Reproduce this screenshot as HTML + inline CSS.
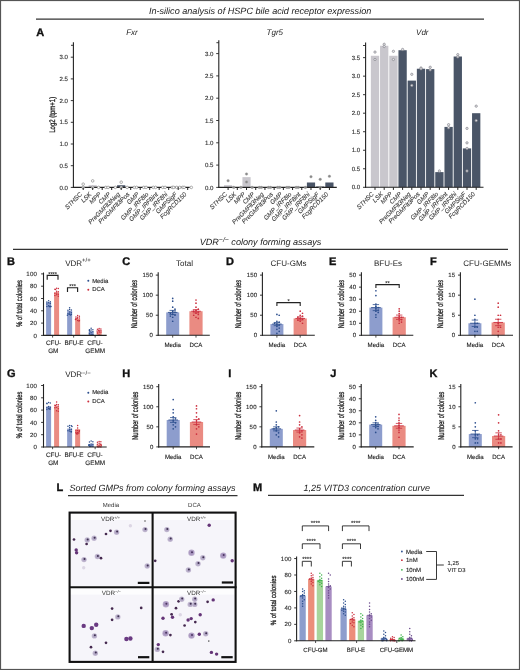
<!DOCTYPE html>
<html><head><meta charset="utf-8"><style>
html,body{margin:0;padding:0;background:#fff;width:520px;height:670px;overflow:hidden;}
svg{display:block;filter:blur(0.3px);font-family:"Liberation Sans",sans-serif;text-rendering:geometricPrecision;}
text.s{stroke:#333;stroke-width:0.13px;}
text.r{stroke:#222;stroke-width:0.3px;}
text.c{stroke:#444;stroke-width:0.1px;}
text.L{stroke:#111;stroke-width:0.35px;}
</style></head><body>
<svg width="520" height="670" viewBox="0 0 520 670">
<rect x="0" y="0" width="520" height="670" fill="#fff"/>
<text x="260.1" y="13.7" font-size="9.1" text-anchor="middle" font-style="italic" fill="#222">In-silico analysis of HSPC bile acid receptor expression</text>
<line x1="36" y1="19.2" x2="484" y2="19.2" stroke="#333" stroke-width="1.2"/>
<text x="36.2" y="35.6" font-size="11" font-weight="bold" fill="#111" class="L">A</text>
<text x="132" y="34.8" font-size="8" text-anchor="middle" font-style="italic" fill="#222">Fxr</text>
<rect x="88.6" y="185.23" width="8.2" height="2.17" fill="#c9c7cd"/>
<rect x="117.1" y="185.23" width="8.2" height="2.17" fill="#4a5567"/>
<line x1="73.4" y1="42.2" x2="73.4" y2="187.9" stroke="#222" stroke-width="1.1"/>
<line x1="72.9" y1="187.4" x2="189.7" y2="187.4" stroke="#222" stroke-width="1.1"/>
<line x1="70.8" y1="187.4" x2="73.4" y2="187.4" stroke="#222" stroke-width="0.9"/>
<text x="68" y="189.5" font-size="6.1" text-anchor="end" fill="#333" class="s">0.0</text>
<line x1="70.8" y1="165.7" x2="73.4" y2="165.7" stroke="#222" stroke-width="0.9"/>
<text x="68" y="167.8" font-size="6.1" text-anchor="end" fill="#333" class="s">0.5</text>
<line x1="70.8" y1="144" x2="73.4" y2="144" stroke="#222" stroke-width="0.9"/>
<text x="68" y="146.1" font-size="6.1" text-anchor="end" fill="#333" class="s">1.0</text>
<line x1="70.8" y1="122.3" x2="73.4" y2="122.3" stroke="#222" stroke-width="0.9"/>
<text x="68" y="124.4" font-size="6.1" text-anchor="end" fill="#333" class="s">1.5</text>
<line x1="70.8" y1="100.6" x2="73.4" y2="100.6" stroke="#222" stroke-width="0.9"/>
<text x="68" y="102.7" font-size="6.1" text-anchor="end" fill="#333" class="s">2.0</text>
<line x1="70.8" y1="78.9" x2="73.4" y2="78.9" stroke="#222" stroke-width="0.9"/>
<text x="68" y="81" font-size="6.1" text-anchor="end" fill="#333" class="s">2.5</text>
<line x1="70.8" y1="57.2" x2="73.4" y2="57.2" stroke="#222" stroke-width="0.9"/>
<text x="68" y="59.3" font-size="6.1" text-anchor="end" fill="#333" class="s">3.0</text>
<circle cx="83.2" cy="184.15" r="1.3" fill="#fff" stroke="#777" stroke-width="0.6"/>
<circle cx="83.2" cy="187.4" r="1.3" fill="#fff" stroke="#777" stroke-width="0.6"/>
<circle cx="92.7" cy="180.89" r="1.3" fill="#fff" stroke="#777" stroke-width="0.6"/>
<circle cx="92.7" cy="187.4" r="1.3" fill="#fff" stroke="#777" stroke-width="0.6"/>
<circle cx="98.6" cy="187.4" r="1.3" fill="#fff" stroke="#777" stroke-width="0.6"/>
<circle cx="105.8" cy="187.4" r="1.3" fill="#fff" stroke="#777" stroke-width="0.6"/>
<circle cx="108.1" cy="187.4" r="1.3" fill="#fff" stroke="#777" stroke-width="0.6"/>
<circle cx="115.3" cy="187.4" r="1.3" fill="#fff" stroke="#777" stroke-width="0.6"/>
<circle cx="121.2" cy="182.19" r="1.3" fill="#fff" stroke="#777" stroke-width="0.6"/>
<circle cx="121.2" cy="187.4" r="1.3" fill="#fff" stroke="#777" stroke-width="0.6"/>
<circle cx="127.1" cy="187.4" r="1.3" fill="#fff" stroke="#777" stroke-width="0.6"/>
<circle cx="134.3" cy="187.4" r="1.3" fill="#fff" stroke="#777" stroke-width="0.6"/>
<circle cx="136.6" cy="187.4" r="1.3" fill="#fff" stroke="#777" stroke-width="0.6"/>
<circle cx="143.8" cy="187.4" r="1.3" fill="#fff" stroke="#777" stroke-width="0.6"/>
<circle cx="146.1" cy="187.4" r="1.3" fill="#fff" stroke="#777" stroke-width="0.6"/>
<circle cx="153.3" cy="187.4" r="1.3" fill="#fff" stroke="#777" stroke-width="0.6"/>
<circle cx="155.6" cy="187.4" r="1.3" fill="#fff" stroke="#777" stroke-width="0.6"/>
<circle cx="162.8" cy="187.4" r="1.3" fill="#fff" stroke="#777" stroke-width="0.6"/>
<circle cx="165.1" cy="187.4" r="1.3" fill="#fff" stroke="#777" stroke-width="0.6"/>
<circle cx="172.3" cy="187.4" r="1.3" fill="#fff" stroke="#777" stroke-width="0.6"/>
<circle cx="173.7" cy="187.4" r="1.3" fill="#fff" stroke="#777" stroke-width="0.6"/>
<circle cx="176.7" cy="187.4" r="1.3" fill="#fff" stroke="#777" stroke-width="0.6"/>
<circle cx="179.7" cy="187.4" r="1.3" fill="#fff" stroke="#777" stroke-width="0.6"/>
<circle cx="182.7" cy="187.4" r="1.3" fill="#fff" stroke="#777" stroke-width="0.6"/>
<circle cx="184.1" cy="187.4" r="1.3" fill="#fff" stroke="#777" stroke-width="0.6"/>
<circle cx="191.3" cy="187.4" r="1.3" fill="#fff" stroke="#777" stroke-width="0.6"/>
<line x1="83.2" y1="187.4" x2="83.2" y2="190" stroke="#222" stroke-width="1"/>
<text x="0" y="0" font-size="6.3" text-anchor="end" font-style="italic" fill="#333" transform="translate(82.5,194.7) rotate(-45)" class="c">STHSC</text>
<line x1="92.7" y1="187.4" x2="92.7" y2="190" stroke="#222" stroke-width="1"/>
<text x="0" y="0" font-size="6.3" text-anchor="end" font-style="italic" fill="#333" transform="translate(92,194.7) rotate(-45)" class="c">LSK</text>
<line x1="102.2" y1="187.4" x2="102.2" y2="190" stroke="#222" stroke-width="1"/>
<text x="0" y="0" font-size="6.3" text-anchor="end" font-style="italic" fill="#333" transform="translate(101.5,194.7) rotate(-45)" class="c">MPP</text>
<line x1="111.7" y1="187.4" x2="111.7" y2="190" stroke="#222" stroke-width="1"/>
<text x="0" y="0" font-size="6.3" text-anchor="end" font-style="italic" fill="#333" transform="translate(111,194.7) rotate(-45)" class="c">CMP</text>
<line x1="121.2" y1="187.4" x2="121.2" y2="190" stroke="#222" stroke-width="1"/>
<text x="0" y="0" font-size="6.3" text-anchor="end" font-style="italic" fill="#333" transform="translate(120.5,194.7) rotate(-45)" class="c">PreGMFlt3Neg</text>
<line x1="130.7" y1="187.4" x2="130.7" y2="190" stroke="#222" stroke-width="1"/>
<text x="0" y="0" font-size="6.3" text-anchor="end" font-style="italic" fill="#333" transform="translate(130,194.7) rotate(-45)" class="c">PreGMFlt3Pos</text>
<line x1="140.2" y1="187.4" x2="140.2" y2="190" stroke="#222" stroke-width="1"/>
<text x="0" y="0" font-size="6.3" text-anchor="end" font-style="italic" fill="#333" transform="translate(139.5,194.7) rotate(-45)" class="c">GMP</text>
<line x1="149.7" y1="187.4" x2="149.7" y2="190" stroke="#222" stroke-width="1"/>
<text x="0" y="0" font-size="6.3" text-anchor="end" font-style="italic" fill="#333" transform="translate(149,194.7) rotate(-45)" class="c">GMP_IRF8lo</text>
<line x1="159.2" y1="187.4" x2="159.2" y2="190" stroke="#222" stroke-width="1"/>
<text x="0" y="0" font-size="6.3" text-anchor="end" font-style="italic" fill="#333" transform="translate(158.5,194.7) rotate(-45)" class="c">GMP_IRF8int</text>
<line x1="168.7" y1="187.4" x2="168.7" y2="190" stroke="#222" stroke-width="1"/>
<text x="0" y="0" font-size="6.3" text-anchor="end" font-style="italic" fill="#333" transform="translate(168,194.7) rotate(-45)" class="c">GMP_IRF8hi</text>
<line x1="178.2" y1="187.4" x2="178.2" y2="190" stroke="#222" stroke-width="1"/>
<text x="0" y="0" font-size="6.3" text-anchor="end" font-style="italic" fill="#333" transform="translate(177.5,194.7) rotate(-45)" class="c">GMPSigF</text>
<line x1="187.7" y1="187.4" x2="187.7" y2="190" stroke="#222" stroke-width="1"/>
<text x="0" y="0" font-size="6.3" text-anchor="end" font-style="italic" fill="#333" transform="translate(187,194.7) rotate(-45)" class="c">FcgRCD150</text>
<line x1="71" y1="45.3" x2="73.4" y2="45.3" stroke="#222" stroke-width="0.9"/>
<text x="0" y="0" font-size="8" text-anchor="middle" fill="#222" transform="translate(54.9,114.8) rotate(-90) scale(0.75,1)" class="r">Log2 (tpm+1)</text>
<text x="274.8" y="34.8" font-size="8" text-anchor="middle" font-style="italic" fill="#222">Tgr5</text>
<rect x="224" y="185.17" width="8.2" height="2.23" fill="#c9c7cd"/>
<rect x="242.42" y="177.14" width="8.2" height="10.26" fill="#c9c7cd"/>
<rect x="306.89" y="182.49" width="8.2" height="4.91" fill="#4a5567"/>
<rect x="316.1" y="186.51" width="8.2" height="0.89" fill="#4a5567"/>
<rect x="325.31" y="182.49" width="8.2" height="4.91" fill="#4a5567"/>
<line x1="218.8" y1="40.3" x2="218.8" y2="187.9" stroke="#222" stroke-width="1.1"/>
<line x1="218.3" y1="187.4" x2="336.8" y2="187.4" stroke="#222" stroke-width="1.1"/>
<line x1="216.2" y1="187.4" x2="218.8" y2="187.4" stroke="#222" stroke-width="0.9"/>
<text x="213.4" y="189.5" font-size="6.1" text-anchor="end" fill="#333" class="s">0.0</text>
<line x1="216.2" y1="165.1" x2="218.8" y2="165.1" stroke="#222" stroke-width="0.9"/>
<text x="213.4" y="167.2" font-size="6.1" text-anchor="end" fill="#333" class="s">0.5</text>
<line x1="216.2" y1="142.8" x2="218.8" y2="142.8" stroke="#222" stroke-width="0.9"/>
<text x="213.4" y="144.9" font-size="6.1" text-anchor="end" fill="#333" class="s">1.0</text>
<line x1="216.2" y1="120.5" x2="218.8" y2="120.5" stroke="#222" stroke-width="0.9"/>
<text x="213.4" y="122.6" font-size="6.1" text-anchor="end" fill="#333" class="s">1.5</text>
<line x1="216.2" y1="98.2" x2="218.8" y2="98.2" stroke="#222" stroke-width="0.9"/>
<text x="213.4" y="100.3" font-size="6.1" text-anchor="end" fill="#333" class="s">2.0</text>
<line x1="216.2" y1="75.9" x2="218.8" y2="75.9" stroke="#222" stroke-width="0.9"/>
<text x="213.4" y="78" font-size="6.1" text-anchor="end" fill="#333" class="s">2.5</text>
<line x1="216.2" y1="53.6" x2="218.8" y2="53.6" stroke="#222" stroke-width="0.9"/>
<text x="213.4" y="55.7" font-size="6.1" text-anchor="end" fill="#333" class="s">3.0</text>
<circle cx="228.1" cy="180.71" r="1.3" fill="#888" stroke="#aaa" stroke-width="0.4"/>
<circle cx="233.71" cy="187.4" r="1.3" fill="#888" stroke="#aaa" stroke-width="0.4"/>
<circle cx="240.91" cy="187.4" r="1.3" fill="#888" stroke="#aaa" stroke-width="0.4"/>
<circle cx="246.52" cy="174.02" r="1.3" fill="#888" stroke="#aaa" stroke-width="0.4"/>
<circle cx="246.52" cy="182.05" r="1.3" fill="#888" stroke="#aaa" stroke-width="0.4"/>
<circle cx="252.13" cy="187.4" r="1.3" fill="#888" stroke="#aaa" stroke-width="0.4"/>
<circle cx="259.33" cy="187.4" r="1.3" fill="#888" stroke="#aaa" stroke-width="0.4"/>
<circle cx="261.34" cy="187.4" r="1.3" fill="#888" stroke="#aaa" stroke-width="0.4"/>
<circle cx="268.54" cy="187.4" r="1.3" fill="#888" stroke="#aaa" stroke-width="0.4"/>
<circle cx="270.55" cy="187.4" r="1.3" fill="#888" stroke="#aaa" stroke-width="0.4"/>
<circle cx="277.75" cy="187.4" r="1.3" fill="#888" stroke="#aaa" stroke-width="0.4"/>
<circle cx="279.76" cy="187.4" r="1.3" fill="#888" stroke="#aaa" stroke-width="0.4"/>
<circle cx="286.96" cy="187.4" r="1.3" fill="#888" stroke="#aaa" stroke-width="0.4"/>
<circle cx="288.97" cy="187.4" r="1.3" fill="#888" stroke="#aaa" stroke-width="0.4"/>
<circle cx="296.17" cy="187.4" r="1.3" fill="#888" stroke="#aaa" stroke-width="0.4"/>
<circle cx="298.18" cy="187.4" r="1.3" fill="#888" stroke="#aaa" stroke-width="0.4"/>
<circle cx="305.38" cy="187.4" r="1.3" fill="#888" stroke="#aaa" stroke-width="0.4"/>
<circle cx="310.99" cy="176.7" r="1.3" fill="#888" stroke="#aaa" stroke-width="0.4"/>
<circle cx="320.2" cy="179.37" r="1.3" fill="#888" stroke="#aaa" stroke-width="0.4"/>
<circle cx="320.2" cy="187.4" r="1.3" fill="#888" stroke="#aaa" stroke-width="0.4"/>
<circle cx="329.41" cy="176.25" r="1.3" fill="#888" stroke="#aaa" stroke-width="0.4"/>
<line x1="228.1" y1="187.4" x2="228.1" y2="190" stroke="#222" stroke-width="1"/>
<text x="0" y="0" font-size="6.3" text-anchor="end" font-style="italic" fill="#333" transform="translate(227.4,194.7) rotate(-45)" class="c">STHSC</text>
<line x1="237.31" y1="187.4" x2="237.31" y2="190" stroke="#222" stroke-width="1"/>
<text x="0" y="0" font-size="6.3" text-anchor="end" font-style="italic" fill="#333" transform="translate(236.61,194.7) rotate(-45)" class="c">LSK</text>
<line x1="246.52" y1="187.4" x2="246.52" y2="190" stroke="#222" stroke-width="1"/>
<text x="0" y="0" font-size="6.3" text-anchor="end" font-style="italic" fill="#333" transform="translate(245.82,194.7) rotate(-45)" class="c">MPP</text>
<line x1="255.73" y1="187.4" x2="255.73" y2="190" stroke="#222" stroke-width="1"/>
<text x="0" y="0" font-size="6.3" text-anchor="end" font-style="italic" fill="#333" transform="translate(255.03,194.7) rotate(-45)" class="c">CMP</text>
<line x1="264.94" y1="187.4" x2="264.94" y2="190" stroke="#222" stroke-width="1"/>
<text x="0" y="0" font-size="6.3" text-anchor="end" font-style="italic" fill="#333" transform="translate(264.24,194.7) rotate(-45)" class="c">PreGMFlt3Neg</text>
<line x1="274.15" y1="187.4" x2="274.15" y2="190" stroke="#222" stroke-width="1"/>
<text x="0" y="0" font-size="6.3" text-anchor="end" font-style="italic" fill="#333" transform="translate(273.45,194.7) rotate(-45)" class="c">PreGMFlt3Pos</text>
<line x1="283.36" y1="187.4" x2="283.36" y2="190" stroke="#222" stroke-width="1"/>
<text x="0" y="0" font-size="6.3" text-anchor="end" font-style="italic" fill="#333" transform="translate(282.66,194.7) rotate(-45)" class="c">GMP</text>
<line x1="292.57" y1="187.4" x2="292.57" y2="190" stroke="#222" stroke-width="1"/>
<text x="0" y="0" font-size="6.3" text-anchor="end" font-style="italic" fill="#333" transform="translate(291.87,194.7) rotate(-45)" class="c">GMP_IRF8lo</text>
<line x1="301.78" y1="187.4" x2="301.78" y2="190" stroke="#222" stroke-width="1"/>
<text x="0" y="0" font-size="6.3" text-anchor="end" font-style="italic" fill="#333" transform="translate(301.08,194.7) rotate(-45)" class="c">GMP_IRF8int</text>
<line x1="310.99" y1="187.4" x2="310.99" y2="190" stroke="#222" stroke-width="1"/>
<text x="0" y="0" font-size="6.3" text-anchor="end" font-style="italic" fill="#333" transform="translate(310.29,194.7) rotate(-45)" class="c">GMP_IRF8hi</text>
<line x1="320.2" y1="187.4" x2="320.2" y2="190" stroke="#222" stroke-width="1"/>
<text x="0" y="0" font-size="6.3" text-anchor="end" font-style="italic" fill="#333" transform="translate(319.5,194.7) rotate(-45)" class="c">GMPSigF</text>
<line x1="329.41" y1="187.4" x2="329.41" y2="190" stroke="#222" stroke-width="1"/>
<text x="0" y="0" font-size="6.3" text-anchor="end" font-style="italic" fill="#333" transform="translate(328.71,194.7) rotate(-45)" class="c">FcgRCD150</text>
<line x1="216.4" y1="42.7" x2="218.8" y2="42.7" stroke="#222" stroke-width="0.9"/>
<text x="422.3" y="34.8" font-size="8" text-anchor="middle" font-style="italic" fill="#222">Vdr</text>
<rect x="370.85" y="55.77" width="8.3" height="131.53" fill="#c9c7cd"/>
<rect x="380.05" y="45.77" width="8.3" height="141.53" fill="#c9c7cd"/>
<rect x="389.25" y="55.77" width="8.3" height="131.53" fill="#c9c7cd"/>
<rect x="398.45" y="50.22" width="8.3" height="137.09" fill="#4a5567"/>
<rect x="407.65" y="80.6" width="8.3" height="106.7" fill="#4a5567"/>
<rect x="416.85" y="68.74" width="8.3" height="118.56" fill="#4a5567"/>
<rect x="426.05" y="69.11" width="8.3" height="118.19" fill="#4a5567"/>
<rect x="435.25" y="172.11" width="8.3" height="15.19" fill="#4a5567"/>
<rect x="444.45" y="126.91" width="8.3" height="60.39" fill="#4a5567"/>
<rect x="453.65" y="56.51" width="8.3" height="130.79" fill="#4a5567"/>
<rect x="462.85" y="148.4" width="8.3" height="38.9" fill="#4a5567"/>
<rect x="472.05" y="113.2" width="8.3" height="74.1" fill="#4a5567"/>
<line x1="365.6" y1="42.6" x2="365.6" y2="187.8" stroke="#222" stroke-width="1.1"/>
<line x1="365.1" y1="187.3" x2="483.5" y2="187.3" stroke="#222" stroke-width="1.1"/>
<line x1="363" y1="187.3" x2="365.6" y2="187.3" stroke="#222" stroke-width="0.9"/>
<text x="360.2" y="189.4" font-size="6.1" text-anchor="end" fill="#333" class="s">0.0</text>
<line x1="363" y1="168.78" x2="365.6" y2="168.78" stroke="#222" stroke-width="0.9"/>
<text x="360.2" y="170.88" font-size="6.1" text-anchor="end" fill="#333" class="s">0.5</text>
<line x1="363" y1="150.25" x2="365.6" y2="150.25" stroke="#222" stroke-width="0.9"/>
<text x="360.2" y="152.35" font-size="6.1" text-anchor="end" fill="#333" class="s">1.0</text>
<line x1="363" y1="131.73" x2="365.6" y2="131.73" stroke="#222" stroke-width="0.9"/>
<text x="360.2" y="133.83" font-size="6.1" text-anchor="end" fill="#333" class="s">1.5</text>
<line x1="363" y1="113.2" x2="365.6" y2="113.2" stroke="#222" stroke-width="0.9"/>
<text x="360.2" y="115.3" font-size="6.1" text-anchor="end" fill="#333" class="s">2.0</text>
<line x1="363" y1="94.68" x2="365.6" y2="94.68" stroke="#222" stroke-width="0.9"/>
<text x="360.2" y="96.78" font-size="6.1" text-anchor="end" fill="#333" class="s">2.5</text>
<line x1="363" y1="76.15" x2="365.6" y2="76.15" stroke="#222" stroke-width="0.9"/>
<text x="360.2" y="78.25" font-size="6.1" text-anchor="end" fill="#333" class="s">3.0</text>
<line x1="363" y1="57.63" x2="365.6" y2="57.63" stroke="#222" stroke-width="0.9"/>
<text x="360.2" y="59.73" font-size="6.1" text-anchor="end" fill="#333" class="s">3.5</text>
<circle cx="375" cy="52.07" r="1.15" fill="#e4e4e8" stroke="#8a8a90" stroke-width="0.75"/>
<circle cx="375" cy="59.48" r="1.15" fill="#e4e4e8" stroke="#8a8a90" stroke-width="0.75"/>
<circle cx="384.2" cy="44.29" r="1.15" fill="#e4e4e8" stroke="#8a8a90" stroke-width="0.75"/>
<circle cx="384.2" cy="46.51" r="1.15" fill="#e4e4e8" stroke="#8a8a90" stroke-width="0.75"/>
<circle cx="393.4" cy="51.33" r="1.15" fill="#e4e4e8" stroke="#8a8a90" stroke-width="0.75"/>
<circle cx="393.4" cy="59.48" r="1.15" fill="#e4e4e8" stroke="#8a8a90" stroke-width="0.75"/>
<circle cx="402.6" cy="49.47" r="1.15" fill="#e4e4e8" stroke="#8a8a90" stroke-width="0.75"/>
<circle cx="411.8" cy="74.3" r="1.15" fill="#e4e4e8" stroke="#8a8a90" stroke-width="0.75"/>
<circle cx="411.8" cy="85.41" r="1.15" fill="#e4e4e8" stroke="#8a8a90" stroke-width="0.75"/>
<circle cx="421" cy="68" r="1.15" fill="#e4e4e8" stroke="#8a8a90" stroke-width="0.75"/>
<circle cx="421" cy="68.74" r="1.15" fill="#e4e4e8" stroke="#8a8a90" stroke-width="0.75"/>
<circle cx="430.2" cy="67.26" r="1.15" fill="#e4e4e8" stroke="#8a8a90" stroke-width="0.75"/>
<circle cx="430.2" cy="69.85" r="1.15" fill="#e4e4e8" stroke="#8a8a90" stroke-width="0.75"/>
<circle cx="439.4" cy="171" r="1.15" fill="#e4e4e8" stroke="#8a8a90" stroke-width="0.75"/>
<circle cx="448.6" cy="124.69" r="1.15" fill="#e4e4e8" stroke="#8a8a90" stroke-width="0.75"/>
<circle cx="448.6" cy="127.65" r="1.15" fill="#e4e4e8" stroke="#8a8a90" stroke-width="0.75"/>
<circle cx="457.8" cy="54.66" r="1.15" fill="#e4e4e8" stroke="#8a8a90" stroke-width="0.75"/>
<circle cx="457.8" cy="56.88" r="1.15" fill="#e4e4e8" stroke="#8a8a90" stroke-width="0.75"/>
<circle cx="467" cy="128.39" r="1.15" fill="#e4e4e8" stroke="#8a8a90" stroke-width="0.75"/>
<circle cx="467" cy="142.84" r="1.15" fill="#e4e4e8" stroke="#8a8a90" stroke-width="0.75"/>
<circle cx="467" cy="148.4" r="1.15" fill="#e4e4e8" stroke="#8a8a90" stroke-width="0.75"/>
<circle cx="467" cy="171" r="1.15" fill="#e4e4e8" stroke="#8a8a90" stroke-width="0.75"/>
<circle cx="476.2" cy="106.16" r="1.15" fill="#e4e4e8" stroke="#8a8a90" stroke-width="0.75"/>
<circle cx="476.2" cy="120.61" r="1.15" fill="#e4e4e8" stroke="#8a8a90" stroke-width="0.75"/>
<line x1="375" y1="187.3" x2="375" y2="189.9" stroke="#222" stroke-width="1"/>
<text x="0" y="0" font-size="6.3" text-anchor="end" font-style="italic" fill="#333" transform="translate(374.3,194.6) rotate(-45)" class="c">STHSC</text>
<line x1="384.2" y1="187.3" x2="384.2" y2="189.9" stroke="#222" stroke-width="1"/>
<text x="0" y="0" font-size="6.3" text-anchor="end" font-style="italic" fill="#333" transform="translate(383.5,194.6) rotate(-45)" class="c">LSK</text>
<line x1="393.4" y1="187.3" x2="393.4" y2="189.9" stroke="#222" stroke-width="1"/>
<text x="0" y="0" font-size="6.3" text-anchor="end" font-style="italic" fill="#333" transform="translate(392.7,194.6) rotate(-45)" class="c">MPP</text>
<line x1="402.6" y1="187.3" x2="402.6" y2="189.9" stroke="#222" stroke-width="1"/>
<text x="0" y="0" font-size="6.3" text-anchor="end" font-style="italic" fill="#333" transform="translate(401.9,194.6) rotate(-45)" class="c">CMP</text>
<line x1="411.8" y1="187.3" x2="411.8" y2="189.9" stroke="#222" stroke-width="1"/>
<text x="0" y="0" font-size="6.3" text-anchor="end" font-style="italic" fill="#333" transform="translate(411.1,194.6) rotate(-45)" class="c">PreGMFlt3Neg</text>
<line x1="421" y1="187.3" x2="421" y2="189.9" stroke="#222" stroke-width="1"/>
<text x="0" y="0" font-size="6.3" text-anchor="end" font-style="italic" fill="#333" transform="translate(420.3,194.6) rotate(-45)" class="c">PreGMFlt3Pos</text>
<line x1="430.2" y1="187.3" x2="430.2" y2="189.9" stroke="#222" stroke-width="1"/>
<text x="0" y="0" font-size="6.3" text-anchor="end" font-style="italic" fill="#333" transform="translate(429.5,194.6) rotate(-45)" class="c">GMP</text>
<line x1="439.4" y1="187.3" x2="439.4" y2="189.9" stroke="#222" stroke-width="1"/>
<text x="0" y="0" font-size="6.3" text-anchor="end" font-style="italic" fill="#333" transform="translate(438.7,194.6) rotate(-45)" class="c">GMP_IRF8lo</text>
<line x1="448.6" y1="187.3" x2="448.6" y2="189.9" stroke="#222" stroke-width="1"/>
<text x="0" y="0" font-size="6.3" text-anchor="end" font-style="italic" fill="#333" transform="translate(447.9,194.6) rotate(-45)" class="c">GMP_IRF8int</text>
<line x1="457.8" y1="187.3" x2="457.8" y2="189.9" stroke="#222" stroke-width="1"/>
<text x="0" y="0" font-size="6.3" text-anchor="end" font-style="italic" fill="#333" transform="translate(457.1,194.6) rotate(-45)" class="c">GMP_IRF8hi</text>
<line x1="467" y1="187.3" x2="467" y2="189.9" stroke="#222" stroke-width="1"/>
<text x="0" y="0" font-size="6.3" text-anchor="end" font-style="italic" fill="#333" transform="translate(466.3,194.6) rotate(-45)" class="c">GMPSigF</text>
<line x1="476.2" y1="187.3" x2="476.2" y2="189.9" stroke="#222" stroke-width="1"/>
<text x="0" y="0" font-size="6.3" text-anchor="end" font-style="italic" fill="#333" transform="translate(475.5,194.6) rotate(-45)" class="c">FcgRCD150</text>
<line x1="363" y1="45.5" x2="365.6" y2="45.5" stroke="#222" stroke-width="0.9"/>
<text x="260.5" y="244.9" font-size="9.1" text-anchor="middle" font-style="italic" fill="#222">VDR<tspan font-size="6.9" dy="-3.3">−/−</tspan><tspan dy="3.3"> colony forming assays</tspan></text>
<line x1="13" y1="249.4" x2="508" y2="249.4" stroke="#333" stroke-width="1.25"/>
<text x="7" y="265.4" font-size="11" font-weight="bold" fill="#111" class="L">B</text>
<text x="65.2" y="265.6" font-size="8" fill="#222">VDR<tspan font-size="6" dy="-3.4">+/+</tspan></text>
<line x1="43.5" y1="272.5" x2="43.5" y2="335.9" stroke="#222" stroke-width="1.1"/>
<line x1="41.1" y1="335.4" x2="43.5" y2="335.4" stroke="#222" stroke-width="0.9"/>
<text x="37.2" y="337.5" font-size="6.1" text-anchor="end" fill="#2a2a2a" letter-spacing="0.25" class="s">0</text>
<line x1="41.1" y1="323.1" x2="43.5" y2="323.1" stroke="#222" stroke-width="0.9"/>
<text x="37.2" y="325.2" font-size="6.1" text-anchor="end" fill="#2a2a2a" letter-spacing="0.25" class="s">20</text>
<line x1="41.1" y1="310.8" x2="43.5" y2="310.8" stroke="#222" stroke-width="0.9"/>
<text x="37.2" y="312.9" font-size="6.1" text-anchor="end" fill="#2a2a2a" letter-spacing="0.25" class="s">40</text>
<line x1="41.1" y1="298.5" x2="43.5" y2="298.5" stroke="#222" stroke-width="0.9"/>
<text x="37.2" y="300.6" font-size="6.1" text-anchor="end" fill="#2a2a2a" letter-spacing="0.25" class="s">60</text>
<line x1="41.1" y1="286.2" x2="43.5" y2="286.2" stroke="#222" stroke-width="0.9"/>
<text x="37.2" y="288.3" font-size="6.1" text-anchor="end" fill="#2a2a2a" letter-spacing="0.25" class="s">80</text>
<line x1="41.1" y1="273.9" x2="43.5" y2="273.9" stroke="#222" stroke-width="0.9"/>
<text x="37.2" y="276" font-size="6.1" text-anchor="end" fill="#2a2a2a" letter-spacing="0.25" class="s">100</text>
<text x="0" y="0" font-size="8.2" text-anchor="middle" fill="#222" transform="translate(22,303.4) rotate(-90) scale(0.7,1)" class="r">% of total colonies</text>
<rect x="46.1" y="302.19" width="5" height="33.21" fill="#8d9dcd"/>
<rect x="54.1" y="292.35" width="5" height="43.05" fill="#ea8b82"/>
<circle cx="48.6" cy="300.7" r="0.75" fill="#2d4f8e"/>
<circle cx="50.3" cy="301.84" r="0.75" fill="#2d4f8e"/>
<circle cx="46.9" cy="302.12" r="0.75" fill="#2d4f8e"/>
<circle cx="48.6" cy="302.84" r="0.75" fill="#2d4f8e"/>
<circle cx="50.3" cy="303.51" r="0.75" fill="#2d4f8e"/>
<circle cx="46.9" cy="303.92" r="0.75" fill="#2d4f8e"/>
<circle cx="48.6" cy="305.63" r="0.75" fill="#2d4f8e"/>
<circle cx="50.3" cy="306.22" r="0.75" fill="#2d4f8e"/>
<circle cx="46.9" cy="306.4" r="0.75" fill="#2d4f8e"/>
<circle cx="49.31" cy="306.42" r="0.75" fill="#2d4f8e"/>
<circle cx="50.97" cy="306.54" r="0.75" fill="#2d4f8e"/>
<circle cx="50.15" cy="306.74" r="0.75" fill="#2d4f8e"/>
<circle cx="56.6" cy="288.25" r="0.75" fill="#cc2f3e"/>
<circle cx="58.3" cy="288.5" r="0.75" fill="#cc2f3e"/>
<circle cx="54.9" cy="289.26" r="0.75" fill="#cc2f3e"/>
<circle cx="55.57" cy="289.54" r="0.75" fill="#cc2f3e"/>
<circle cx="56.6" cy="291.25" r="0.75" fill="#cc2f3e"/>
<circle cx="58.3" cy="291.69" r="0.75" fill="#cc2f3e"/>
<circle cx="56.6" cy="293" r="0.75" fill="#cc2f3e"/>
<circle cx="54.9" cy="293.24" r="0.75" fill="#cc2f3e"/>
<circle cx="58.3" cy="294.16" r="0.75" fill="#cc2f3e"/>
<circle cx="56.6" cy="294.73" r="0.75" fill="#cc2f3e"/>
<circle cx="54.9" cy="295.59" r="0.75" fill="#cc2f3e"/>
<circle cx="58.3" cy="296.25" r="0.75" fill="#cc2f3e"/>
<rect x="67.15" y="310.8" width="5" height="24.6" fill="#8d9dcd"/>
<rect x="75.15" y="318.79" width="5" height="16.61" fill="#ea8b82"/>
<circle cx="69.65" cy="307.69" r="0.75" fill="#2d4f8e"/>
<circle cx="69.65" cy="309.43" r="0.75" fill="#2d4f8e"/>
<circle cx="71.35" cy="310" r="0.75" fill="#2d4f8e"/>
<circle cx="67.95" cy="310.33" r="0.75" fill="#2d4f8e"/>
<circle cx="69.65" cy="312.06" r="0.75" fill="#2d4f8e"/>
<circle cx="71.35" cy="312.68" r="0.75" fill="#2d4f8e"/>
<circle cx="67.95" cy="313.69" r="0.75" fill="#2d4f8e"/>
<circle cx="69.65" cy="313.94" r="0.75" fill="#2d4f8e"/>
<circle cx="69.1" cy="314.3" r="0.75" fill="#2d4f8e"/>
<circle cx="71.35" cy="314.56" r="0.75" fill="#2d4f8e"/>
<circle cx="70.46" cy="315.1" r="0.75" fill="#2d4f8e"/>
<circle cx="67.36" cy="315.13" r="0.75" fill="#2d4f8e"/>
<circle cx="77.65" cy="315.57" r="0.75" fill="#cc2f3e"/>
<circle cx="79.35" cy="316.26" r="0.75" fill="#cc2f3e"/>
<circle cx="75.95" cy="317.08" r="0.75" fill="#cc2f3e"/>
<circle cx="77.65" cy="317.24" r="0.75" fill="#cc2f3e"/>
<circle cx="79.35" cy="318.06" r="0.75" fill="#cc2f3e"/>
<circle cx="77.47" cy="318.15" r="0.75" fill="#cc2f3e"/>
<circle cx="76.06" cy="318.58" r="0.75" fill="#cc2f3e"/>
<circle cx="75.81" cy="319.2" r="0.75" fill="#cc2f3e"/>
<circle cx="75.53" cy="319.42" r="0.75" fill="#cc2f3e"/>
<circle cx="77.65" cy="320.4" r="0.75" fill="#cc2f3e"/>
<circle cx="79.35" cy="320.52" r="0.75" fill="#cc2f3e"/>
<circle cx="78.94" cy="321" r="0.75" fill="#cc2f3e"/>
<rect x="88.65" y="331.4" width="5" height="4" fill="#8d9dcd"/>
<rect x="96.65" y="331.4" width="5" height="4" fill="#ea8b82"/>
<circle cx="91.15" cy="328.17" r="0.75" fill="#2d4f8e"/>
<circle cx="92.85" cy="329.76" r="0.75" fill="#2d4f8e"/>
<circle cx="89.45" cy="329.81" r="0.75" fill="#2d4f8e"/>
<circle cx="91.15" cy="330.02" r="0.75" fill="#2d4f8e"/>
<circle cx="89.37" cy="330.47" r="0.75" fill="#2d4f8e"/>
<circle cx="89.94" cy="331.17" r="0.75" fill="#2d4f8e"/>
<circle cx="92.85" cy="331.79" r="0.75" fill="#2d4f8e"/>
<circle cx="91.15" cy="332.31" r="0.75" fill="#2d4f8e"/>
<circle cx="89.45" cy="333.28" r="0.75" fill="#2d4f8e"/>
<circle cx="91.15" cy="334.28" r="0.75" fill="#2d4f8e"/>
<circle cx="92.85" cy="334.53" r="0.75" fill="#2d4f8e"/>
<circle cx="89.45" cy="335.11" r="0.75" fill="#2d4f8e"/>
<circle cx="99.15" cy="328.43" r="0.75" fill="#cc2f3e"/>
<circle cx="100.85" cy="328.94" r="0.75" fill="#cc2f3e"/>
<circle cx="97.45" cy="329.2" r="0.75" fill="#cc2f3e"/>
<circle cx="99.15" cy="330.22" r="0.75" fill="#cc2f3e"/>
<circle cx="98.63" cy="330.27" r="0.75" fill="#cc2f3e"/>
<circle cx="100.93" cy="330.5" r="0.75" fill="#cc2f3e"/>
<circle cx="97.14" cy="331.01" r="0.75" fill="#cc2f3e"/>
<circle cx="98.91" cy="331.12" r="0.75" fill="#cc2f3e"/>
<circle cx="99.39" cy="331.9" r="0.75" fill="#cc2f3e"/>
<circle cx="100.99" cy="332.03" r="0.75" fill="#cc2f3e"/>
<circle cx="97.45" cy="333.08" r="0.75" fill="#cc2f3e"/>
<circle cx="99.15" cy="334.95" r="0.75" fill="#cc2f3e"/>
<line x1="43" y1="335.4" x2="106.7" y2="335.4" stroke="#222" stroke-width="1.1"/>
<line x1="52.6" y1="335.4" x2="52.6" y2="337.6" stroke="#222" stroke-width="0.8"/>
<line x1="73.65" y1="335.4" x2="73.65" y2="337.6" stroke="#222" stroke-width="0.8"/>
<line x1="95.15" y1="335.4" x2="95.15" y2="337.6" stroke="#222" stroke-width="0.8"/>
<text x="53.6" y="344.9" font-size="6.4" text-anchor="middle" fill="#222" class="s">CFU-</text>
<text x="53.3" y="353.1" font-size="6.4" text-anchor="middle" fill="#222" class="s">GM</text>
<text x="74" y="344.9" font-size="6.4" text-anchor="middle" fill="#222" class="s">BFU-E</text>
<text x="95" y="344.9" font-size="6.4" text-anchor="middle" fill="#222" class="s">CFU-</text>
<text x="95.2" y="353.1" font-size="6.4" text-anchor="middle" fill="#222" class="s">GEMM</text>
<circle cx="88.3" cy="280.8" r="1" fill="#2d4f8e"/>
<text x="92.2" y="282.5" font-size="5.9" fill="#222" class="s">Media</text>
<circle cx="88.3" cy="289.7" r="1" fill="#cc2f3e"/>
<text x="92.2" y="291.3" font-size="5.9" fill="#222" class="s">DCA</text>
<polyline points="47.2,279.8 47.2,275.4 58,275.4 58,279.8" stroke="#222" stroke-width="1.15" fill="none"/>
<text x="52.6" y="275.9" font-size="5.6" text-anchor="middle" fill="#222" class="s">****</text>
<polyline points="67.5,292.1 67.5,287.7 77.6,287.7 77.6,292.1" stroke="#222" stroke-width="1.15" fill="none"/>
<text x="72.55" y="288.2" font-size="5.6" text-anchor="middle" fill="#222" class="s">***</text>
<text x="7" y="377" font-size="11" font-weight="bold" fill="#111" class="L">G</text>
<text x="65.2" y="377.2" font-size="8" fill="#222">VDR<tspan font-size="6" dy="-2.2">−/−</tspan></text>
<line x1="43.5" y1="384.1" x2="43.5" y2="447.5" stroke="#222" stroke-width="1.1"/>
<line x1="41.1" y1="447" x2="43.5" y2="447" stroke="#222" stroke-width="0.9"/>
<text x="37.2" y="449.1" font-size="6.1" text-anchor="end" fill="#2a2a2a" letter-spacing="0.25" class="s">0</text>
<line x1="41.1" y1="434.7" x2="43.5" y2="434.7" stroke="#222" stroke-width="0.9"/>
<text x="37.2" y="436.8" font-size="6.1" text-anchor="end" fill="#2a2a2a" letter-spacing="0.25" class="s">20</text>
<line x1="41.1" y1="422.4" x2="43.5" y2="422.4" stroke="#222" stroke-width="0.9"/>
<text x="37.2" y="424.5" font-size="6.1" text-anchor="end" fill="#2a2a2a" letter-spacing="0.25" class="s">40</text>
<line x1="41.1" y1="410.1" x2="43.5" y2="410.1" stroke="#222" stroke-width="0.9"/>
<text x="37.2" y="412.2" font-size="6.1" text-anchor="end" fill="#2a2a2a" letter-spacing="0.25" class="s">60</text>
<line x1="41.1" y1="397.8" x2="43.5" y2="397.8" stroke="#222" stroke-width="0.9"/>
<text x="37.2" y="399.9" font-size="6.1" text-anchor="end" fill="#2a2a2a" letter-spacing="0.25" class="s">80</text>
<line x1="41.1" y1="385.5" x2="43.5" y2="385.5" stroke="#222" stroke-width="0.9"/>
<text x="37.2" y="387.6" font-size="6.1" text-anchor="end" fill="#2a2a2a" letter-spacing="0.25" class="s">100</text>
<text x="0" y="0" font-size="8.2" text-anchor="middle" fill="#222" transform="translate(22,415) rotate(-90) scale(0.7,1)" class="r">% of total colonies</text>
<rect x="46.1" y="406.41" width="5" height="40.59" fill="#8d9dcd"/>
<rect x="54.1" y="406.41" width="5" height="40.59" fill="#ea8b82"/>
<circle cx="48.6" cy="402.47" r="0.75" fill="#2d4f8e"/>
<circle cx="50.3" cy="403.1" r="0.75" fill="#2d4f8e"/>
<circle cx="46.9" cy="403.28" r="0.75" fill="#2d4f8e"/>
<circle cx="47" cy="403.66" r="0.75" fill="#2d4f8e"/>
<circle cx="48.6" cy="406.54" r="0.75" fill="#2d4f8e"/>
<circle cx="50.3" cy="407.14" r="0.75" fill="#2d4f8e"/>
<circle cx="46.9" cy="407.63" r="0.75" fill="#2d4f8e"/>
<circle cx="48.6" cy="408.32" r="0.75" fill="#2d4f8e"/>
<circle cx="49.91" cy="408.71" r="0.75" fill="#2d4f8e"/>
<circle cx="48.76" cy="408.72" r="0.75" fill="#2d4f8e"/>
<circle cx="49.94" cy="409.2" r="0.75" fill="#2d4f8e"/>
<circle cx="46.9" cy="409.42" r="0.75" fill="#2d4f8e"/>
<circle cx="56.6" cy="401.95" r="0.75" fill="#cc2f3e"/>
<circle cx="56.6" cy="404.54" r="0.75" fill="#cc2f3e"/>
<circle cx="58.3" cy="404.68" r="0.75" fill="#cc2f3e"/>
<circle cx="54.9" cy="405.25" r="0.75" fill="#cc2f3e"/>
<circle cx="55.78" cy="405.53" r="0.75" fill="#cc2f3e"/>
<circle cx="55.27" cy="405.76" r="0.75" fill="#cc2f3e"/>
<circle cx="58.1" cy="406.26" r="0.75" fill="#cc2f3e"/>
<circle cx="56.6" cy="407.21" r="0.75" fill="#cc2f3e"/>
<circle cx="54.9" cy="407.7" r="0.75" fill="#cc2f3e"/>
<circle cx="58.3" cy="408.74" r="0.75" fill="#cc2f3e"/>
<circle cx="56.6" cy="410.8" r="0.75" fill="#cc2f3e"/>
<circle cx="58.3" cy="411.29" r="0.75" fill="#cc2f3e"/>
<rect x="67.15" y="428.55" width="5" height="18.45" fill="#8d9dcd"/>
<rect x="75.15" y="429.17" width="5" height="17.84" fill="#ea8b82"/>
<circle cx="69.65" cy="425.6" r="0.75" fill="#2d4f8e"/>
<circle cx="71.35" cy="425.79" r="0.75" fill="#2d4f8e"/>
<circle cx="67.95" cy="426.35" r="0.75" fill="#2d4f8e"/>
<circle cx="71.98" cy="426.48" r="0.75" fill="#2d4f8e"/>
<circle cx="69.65" cy="427.56" r="0.75" fill="#2d4f8e"/>
<circle cx="69.65" cy="429.3" r="0.75" fill="#2d4f8e"/>
<circle cx="71.35" cy="429.34" r="0.75" fill="#2d4f8e"/>
<circle cx="67.95" cy="430.7" r="0.75" fill="#2d4f8e"/>
<circle cx="69.65" cy="431.04" r="0.75" fill="#2d4f8e"/>
<circle cx="71.35" cy="431.48" r="0.75" fill="#2d4f8e"/>
<circle cx="71.34" cy="431.74" r="0.75" fill="#2d4f8e"/>
<circle cx="71.12" cy="431.78" r="0.75" fill="#2d4f8e"/>
<circle cx="77.65" cy="425.48" r="0.75" fill="#cc2f3e"/>
<circle cx="77.65" cy="428.04" r="0.75" fill="#cc2f3e"/>
<circle cx="77.65" cy="430.51" r="0.75" fill="#cc2f3e"/>
<circle cx="79.35" cy="430.67" r="0.75" fill="#cc2f3e"/>
<circle cx="75.95" cy="430.74" r="0.75" fill="#cc2f3e"/>
<circle cx="79.18" cy="431.6" r="0.75" fill="#cc2f3e"/>
<circle cx="77.65" cy="432.6" r="0.75" fill="#cc2f3e"/>
<circle cx="75.95" cy="432.62" r="0.75" fill="#cc2f3e"/>
<circle cx="78.8" cy="433.09" r="0.75" fill="#cc2f3e"/>
<circle cx="76.34" cy="433.57" r="0.75" fill="#cc2f3e"/>
<circle cx="77.73" cy="433.83" r="0.75" fill="#cc2f3e"/>
<circle cx="76.96" cy="434.08" r="0.75" fill="#cc2f3e"/>
<rect x="88.65" y="443.93" width="5" height="3.08" fill="#8d9dcd"/>
<rect x="96.65" y="444.54" width="5" height="2.46" fill="#ea8b82"/>
<circle cx="91.15" cy="440.89" r="0.75" fill="#2d4f8e"/>
<circle cx="92.85" cy="441.78" r="0.75" fill="#2d4f8e"/>
<circle cx="89.45" cy="441.9" r="0.75" fill="#2d4f8e"/>
<circle cx="91.15" cy="444.02" r="0.75" fill="#2d4f8e"/>
<circle cx="92.85" cy="444.13" r="0.75" fill="#2d4f8e"/>
<circle cx="89.45" cy="444.76" r="0.75" fill="#2d4f8e"/>
<circle cx="88.89" cy="444.89" r="0.75" fill="#2d4f8e"/>
<circle cx="88.88" cy="445.37" r="0.75" fill="#2d4f8e"/>
<circle cx="91.15" cy="446.01" r="0.75" fill="#2d4f8e"/>
<circle cx="92.85" cy="446.24" r="0.75" fill="#2d4f8e"/>
<circle cx="90.09" cy="446.37" r="0.75" fill="#2d4f8e"/>
<circle cx="89.99" cy="446.47" r="0.75" fill="#2d4f8e"/>
<circle cx="99.15" cy="441.6" r="0.75" fill="#cc2f3e"/>
<circle cx="100.85" cy="441.77" r="0.75" fill="#cc2f3e"/>
<circle cx="97.45" cy="442.31" r="0.75" fill="#cc2f3e"/>
<circle cx="99.15" cy="443.33" r="0.75" fill="#cc2f3e"/>
<circle cx="100.85" cy="444.27" r="0.75" fill="#cc2f3e"/>
<circle cx="97.45" cy="444.37" r="0.75" fill="#cc2f3e"/>
<circle cx="100.07" cy="444.37" r="0.75" fill="#cc2f3e"/>
<circle cx="101.34" cy="445.36" r="0.75" fill="#cc2f3e"/>
<circle cx="99.15" cy="446.01" r="0.75" fill="#cc2f3e"/>
<circle cx="97.45" cy="446.71" r="0.75" fill="#cc2f3e"/>
<circle cx="100.85" cy="447" r="0.75" fill="#cc2f3e"/>
<circle cx="98.9" cy="447" r="0.75" fill="#cc2f3e"/>
<line x1="43" y1="447" x2="106.7" y2="447" stroke="#222" stroke-width="1.1"/>
<line x1="52.6" y1="447" x2="52.6" y2="449.2" stroke="#222" stroke-width="0.8"/>
<line x1="73.65" y1="447" x2="73.65" y2="449.2" stroke="#222" stroke-width="0.8"/>
<line x1="95.15" y1="447" x2="95.15" y2="449.2" stroke="#222" stroke-width="0.8"/>
<text x="53.6" y="456.5" font-size="6.4" text-anchor="middle" fill="#222" class="s">CFU-</text>
<text x="53.3" y="464.7" font-size="6.4" text-anchor="middle" fill="#222" class="s">GM</text>
<text x="74" y="456.5" font-size="6.4" text-anchor="middle" fill="#222" class="s">BFU-E</text>
<text x="95" y="456.5" font-size="6.4" text-anchor="middle" fill="#222" class="s">CFU-</text>
<text x="95.2" y="464.7" font-size="6.4" text-anchor="middle" fill="#222" class="s">GEMM</text>
<circle cx="88.3" cy="392.7" r="1" fill="#2d4f8e"/>
<text x="92.2" y="394.4" font-size="5.9" fill="#222" class="s">Media</text>
<circle cx="88.3" cy="401.6" r="1" fill="#cc2f3e"/>
<text x="92.2" y="403.2" font-size="5.9" fill="#222" class="s">DCA</text>
<text x="122.2" y="265.4" font-size="11" font-weight="bold" fill="#111" class="L">C</text>
<text x="184.5" y="266" font-size="8" text-anchor="middle" fill="#222">Total</text>
<line x1="158.2" y1="272.3" x2="158.2" y2="335.8" stroke="#222" stroke-width="1.1"/>
<line x1="155.8" y1="335.3" x2="158.2" y2="335.3" stroke="#222" stroke-width="0.9"/>
<text x="153.2" y="337.4" font-size="6" text-anchor="end" fill="#2a2a2a" letter-spacing="0.25" class="s">0</text>
<line x1="155.8" y1="315.23" x2="158.2" y2="315.23" stroke="#222" stroke-width="0.9"/>
<text x="153.2" y="317.33" font-size="6" text-anchor="end" fill="#2a2a2a" letter-spacing="0.25" class="s">50</text>
<line x1="155.8" y1="295.17" x2="158.2" y2="295.17" stroke="#222" stroke-width="0.9"/>
<text x="153.2" y="297.27" font-size="6" text-anchor="end" fill="#2a2a2a" letter-spacing="0.25" class="s">100</text>
<line x1="155.8" y1="275.1" x2="158.2" y2="275.1" stroke="#222" stroke-width="0.9"/>
<text x="153.2" y="277.2" font-size="6" text-anchor="end" fill="#2a2a2a" letter-spacing="0.25" class="s">150</text>
<text x="0" y="0" font-size="8.6" text-anchor="middle" fill="#222" transform="translate(137,304.1) rotate(-90) scale(0.65,1)" class="r">Number of colonies</text>
<rect x="166.2" y="312.42" width="13" height="22.88" fill="#8d9dcd"/>
<rect x="189.4" y="311.22" width="13.2" height="24.08" fill="#ea8b82"/>
<circle cx="172.7" cy="298.38" r="0.85" fill="#2d4f8e"/>
<circle cx="172.7" cy="301.19" r="0.85" fill="#2d4f8e"/>
<circle cx="172.7" cy="307.21" r="0.85" fill="#2d4f8e"/>
<circle cx="175" cy="309.21" r="0.85" fill="#2d4f8e"/>
<circle cx="172.7" cy="311.22" r="0.85" fill="#2d4f8e"/>
<circle cx="175" cy="312.02" r="0.85" fill="#2d4f8e"/>
<circle cx="170.4" cy="313.23" r="0.85" fill="#2d4f8e"/>
<circle cx="172.7" cy="314.43" r="0.85" fill="#2d4f8e"/>
<circle cx="175" cy="315.23" r="0.85" fill="#2d4f8e"/>
<circle cx="170.4" cy="316.04" r="0.85" fill="#2d4f8e"/>
<circle cx="172.7" cy="317.24" r="0.85" fill="#2d4f8e"/>
<circle cx="172.7" cy="321.25" r="0.85" fill="#2d4f8e"/>
<circle cx="196" cy="299.98" r="0.85" fill="#cc2f3e"/>
<circle cx="196" cy="303.19" r="0.85" fill="#cc2f3e"/>
<circle cx="196" cy="307.21" r="0.85" fill="#cc2f3e"/>
<circle cx="198.3" cy="309.21" r="0.85" fill="#cc2f3e"/>
<circle cx="196" cy="310.42" r="0.85" fill="#cc2f3e"/>
<circle cx="193.7" cy="311.22" r="0.85" fill="#cc2f3e"/>
<circle cx="198.3" cy="312.02" r="0.85" fill="#cc2f3e"/>
<circle cx="196" cy="313.23" r="0.85" fill="#cc2f3e"/>
<circle cx="198.3" cy="314.43" r="0.85" fill="#cc2f3e"/>
<circle cx="193.7" cy="315.23" r="0.85" fill="#cc2f3e"/>
<circle cx="196" cy="317.24" r="0.85" fill="#cc2f3e"/>
<circle cx="198.3" cy="318.44" r="0.85" fill="#cc2f3e"/>
<line x1="172.7" y1="310.42" x2="172.7" y2="314.43" stroke="#2d4f8e" stroke-width="0.8"/>
<line x1="169.5" y1="310.42" x2="175.9" y2="310.42" stroke="#2d4f8e" stroke-width="0.8"/>
<line x1="169.5" y1="314.43" x2="175.9" y2="314.43" stroke="#2d4f8e" stroke-width="0.8"/>
<line x1="167.9" y1="312.42" x2="177.5" y2="312.42" stroke="#2d4f8e" stroke-width="0.9"/>
<line x1="196" y1="309.61" x2="196" y2="312.83" stroke="#cc2f3e" stroke-width="0.8"/>
<line x1="192.8" y1="309.61" x2="199.2" y2="309.61" stroke="#cc2f3e" stroke-width="0.8"/>
<line x1="192.8" y1="312.83" x2="199.2" y2="312.83" stroke="#cc2f3e" stroke-width="0.8"/>
<line x1="191.2" y1="311.22" x2="200.8" y2="311.22" stroke="#cc2f3e" stroke-width="0.9"/>
<line x1="157.7" y1="335.3" x2="209.8" y2="335.3" stroke="#222" stroke-width="1.1"/>
<line x1="172.7" y1="335.3" x2="172.7" y2="337.6" stroke="#222" stroke-width="0.8"/>
<line x1="196" y1="335.3" x2="196" y2="337.6" stroke="#222" stroke-width="0.8"/>
<text x="172.7" y="347" font-size="6.1" text-anchor="middle" fill="#222" class="s">Media</text>
<text x="196" y="347" font-size="6.1" text-anchor="middle" fill="#222" class="s">DCA</text>
<text x="226" y="265.4" font-size="11" font-weight="bold" fill="#111" class="L">D</text>
<text x="288.6" y="266" font-size="8" text-anchor="middle" fill="#222">CFU-GMs</text>
<line x1="262.4" y1="272.3" x2="262.4" y2="335.8" stroke="#222" stroke-width="1.1"/>
<line x1="260" y1="335.3" x2="262.4" y2="335.3" stroke="#222" stroke-width="0.9"/>
<text x="257.4" y="337.4" font-size="6" text-anchor="end" fill="#2a2a2a" letter-spacing="0.25" class="s">0</text>
<line x1="260" y1="315.23" x2="262.4" y2="315.23" stroke="#222" stroke-width="0.9"/>
<text x="257.4" y="317.33" font-size="6" text-anchor="end" fill="#2a2a2a" letter-spacing="0.25" class="s">50</text>
<line x1="260" y1="295.17" x2="262.4" y2="295.17" stroke="#222" stroke-width="0.9"/>
<text x="257.4" y="297.27" font-size="6" text-anchor="end" fill="#2a2a2a" letter-spacing="0.25" class="s">100</text>
<line x1="260" y1="275.1" x2="262.4" y2="275.1" stroke="#222" stroke-width="0.9"/>
<text x="257.4" y="277.2" font-size="6" text-anchor="end" fill="#2a2a2a" letter-spacing="0.25" class="s">150</text>
<text x="0" y="0" font-size="8.6" text-anchor="middle" fill="#222" transform="translate(241.2,304.1) rotate(-90) scale(0.65,1)" class="r">Number of colonies</text>
<rect x="270.4" y="324.06" width="13" height="11.24" fill="#8d9dcd"/>
<rect x="293.6" y="318.44" width="13.2" height="16.86" fill="#ea8b82"/>
<circle cx="276.9" cy="314.43" r="0.85" fill="#2d4f8e"/>
<circle cx="279.2" cy="315.23" r="0.85" fill="#2d4f8e"/>
<circle cx="276.9" cy="321.25" r="0.85" fill="#2d4f8e"/>
<circle cx="279.2" cy="322.06" r="0.85" fill="#2d4f8e"/>
<circle cx="274.6" cy="323.26" r="0.85" fill="#2d4f8e"/>
<circle cx="276.9" cy="324.06" r="0.85" fill="#2d4f8e"/>
<circle cx="279.2" cy="324.87" r="0.85" fill="#2d4f8e"/>
<circle cx="276.9" cy="326.47" r="0.85" fill="#2d4f8e"/>
<circle cx="279.2" cy="328.08" r="0.85" fill="#2d4f8e"/>
<circle cx="276.9" cy="329.28" r="0.85" fill="#2d4f8e"/>
<circle cx="279.2" cy="331.29" r="0.85" fill="#2d4f8e"/>
<circle cx="276.9" cy="333.29" r="0.85" fill="#2d4f8e"/>
<circle cx="300.2" cy="311.22" r="0.85" fill="#cc2f3e"/>
<circle cx="302.5" cy="313.23" r="0.85" fill="#cc2f3e"/>
<circle cx="300.2" cy="315.23" r="0.85" fill="#cc2f3e"/>
<circle cx="302.5" cy="316.04" r="0.85" fill="#cc2f3e"/>
<circle cx="297.9" cy="317.24" r="0.85" fill="#cc2f3e"/>
<circle cx="300.2" cy="318.44" r="0.85" fill="#cc2f3e"/>
<circle cx="302.5" cy="319.25" r="0.85" fill="#cc2f3e"/>
<circle cx="297.9" cy="320.05" r="0.85" fill="#cc2f3e"/>
<circle cx="300.2" cy="321.25" r="0.85" fill="#cc2f3e"/>
<circle cx="302.5" cy="323.26" r="0.85" fill="#cc2f3e"/>
<line x1="276.9" y1="322.46" x2="276.9" y2="325.67" stroke="#2d4f8e" stroke-width="0.8"/>
<line x1="273.7" y1="322.46" x2="280.1" y2="322.46" stroke="#2d4f8e" stroke-width="0.8"/>
<line x1="273.7" y1="325.67" x2="280.1" y2="325.67" stroke="#2d4f8e" stroke-width="0.8"/>
<line x1="272.1" y1="324.06" x2="281.7" y2="324.06" stroke="#2d4f8e" stroke-width="0.9"/>
<line x1="300.2" y1="316.84" x2="300.2" y2="320.05" stroke="#cc2f3e" stroke-width="0.8"/>
<line x1="297" y1="316.84" x2="303.4" y2="316.84" stroke="#cc2f3e" stroke-width="0.8"/>
<line x1="297" y1="320.05" x2="303.4" y2="320.05" stroke="#cc2f3e" stroke-width="0.8"/>
<line x1="295.4" y1="318.44" x2="305" y2="318.44" stroke="#cc2f3e" stroke-width="0.9"/>
<line x1="261.9" y1="335.3" x2="314.8" y2="335.3" stroke="#222" stroke-width="1.1"/>
<line x1="276.9" y1="335.3" x2="276.9" y2="337.6" stroke="#222" stroke-width="0.8"/>
<line x1="300.2" y1="335.3" x2="300.2" y2="337.6" stroke="#222" stroke-width="0.8"/>
<text x="276.9" y="347" font-size="6.1" text-anchor="middle" fill="#222" class="s">Media</text>
<text x="300.2" y="347" font-size="6.1" text-anchor="middle" fill="#222" class="s">DCA</text>
<polyline points="276.9,306 276.9,302.6 300.2,302.6 300.2,306" stroke="#222" stroke-width="1.1" fill="none"/>
<text x="288.55" y="302.9" font-size="5.6" text-anchor="middle" fill="#222" class="s">*</text>
<text x="329" y="265.4" font-size="11" font-weight="bold" fill="#111" class="L">E</text>
<text x="388" y="266" font-size="8" text-anchor="middle" fill="#222">BFU-Es</text>
<line x1="361.4" y1="272.3" x2="361.4" y2="335.8" stroke="#222" stroke-width="1.1"/>
<line x1="359" y1="335.3" x2="361.4" y2="335.3" stroke="#222" stroke-width="0.9"/>
<text x="356.4" y="337.4" font-size="6" text-anchor="end" fill="#2a2a2a" letter-spacing="0.25" class="s">0</text>
<line x1="359" y1="323.26" x2="361.4" y2="323.26" stroke="#222" stroke-width="0.9"/>
<text x="356.4" y="325.36" font-size="6" text-anchor="end" fill="#2a2a2a" letter-spacing="0.25" class="s">10</text>
<line x1="359" y1="311.22" x2="361.4" y2="311.22" stroke="#222" stroke-width="0.9"/>
<text x="356.4" y="313.32" font-size="6" text-anchor="end" fill="#2a2a2a" letter-spacing="0.25" class="s">20</text>
<line x1="359" y1="299.18" x2="361.4" y2="299.18" stroke="#222" stroke-width="0.9"/>
<text x="356.4" y="301.28" font-size="6" text-anchor="end" fill="#2a2a2a" letter-spacing="0.25" class="s">30</text>
<line x1="359" y1="287.14" x2="361.4" y2="287.14" stroke="#222" stroke-width="0.9"/>
<text x="356.4" y="289.24" font-size="6" text-anchor="end" fill="#2a2a2a" letter-spacing="0.25" class="s">40</text>
<line x1="359" y1="275.1" x2="361.4" y2="275.1" stroke="#222" stroke-width="0.9"/>
<text x="356.4" y="277.2" font-size="6" text-anchor="end" fill="#2a2a2a" letter-spacing="0.25" class="s">50</text>
<text x="0" y="0" font-size="8.6" text-anchor="middle" fill="#222" transform="translate(344.2,304.1) rotate(-90) scale(0.65,1)" class="r">Number of colonies</text>
<rect x="369.4" y="307.61" width="13" height="27.69" fill="#8d9dcd"/>
<rect x="392.6" y="317.24" width="13.2" height="18.06" fill="#ea8b82"/>
<circle cx="375.9" cy="290.75" r="0.85" fill="#2d4f8e"/>
<circle cx="375.9" cy="295.57" r="0.85" fill="#2d4f8e"/>
<circle cx="375.9" cy="304" r="0.85" fill="#2d4f8e"/>
<circle cx="375.9" cy="306.4" r="0.85" fill="#2d4f8e"/>
<circle cx="378.2" cy="307.61" r="0.85" fill="#2d4f8e"/>
<circle cx="375.9" cy="308.81" r="0.85" fill="#2d4f8e"/>
<circle cx="378.2" cy="310.02" r="0.85" fill="#2d4f8e"/>
<circle cx="375.9" cy="311.22" r="0.85" fill="#2d4f8e"/>
<circle cx="378.2" cy="312.42" r="0.85" fill="#2d4f8e"/>
<circle cx="375.9" cy="314.83" r="0.85" fill="#2d4f8e"/>
<circle cx="375.9" cy="317.24" r="0.85" fill="#2d4f8e"/>
<circle cx="399.2" cy="308.81" r="0.85" fill="#cc2f3e"/>
<circle cx="399.2" cy="311.22" r="0.85" fill="#cc2f3e"/>
<circle cx="399.2" cy="313.63" r="0.85" fill="#cc2f3e"/>
<circle cx="399.2" cy="316.04" r="0.85" fill="#cc2f3e"/>
<circle cx="401.5" cy="317.24" r="0.85" fill="#cc2f3e"/>
<circle cx="399.2" cy="318.44" r="0.85" fill="#cc2f3e"/>
<circle cx="401.5" cy="319.65" r="0.85" fill="#cc2f3e"/>
<circle cx="399.2" cy="320.85" r="0.85" fill="#cc2f3e"/>
<circle cx="401.5" cy="322.06" r="0.85" fill="#cc2f3e"/>
<circle cx="399.2" cy="323.26" r="0.85" fill="#cc2f3e"/>
<line x1="375.9" y1="304.6" x2="375.9" y2="310.62" stroke="#2d4f8e" stroke-width="0.8"/>
<line x1="372.7" y1="304.6" x2="379.1" y2="304.6" stroke="#2d4f8e" stroke-width="0.8"/>
<line x1="372.7" y1="310.62" x2="379.1" y2="310.62" stroke="#2d4f8e" stroke-width="0.8"/>
<line x1="371.1" y1="307.61" x2="380.7" y2="307.61" stroke="#2d4f8e" stroke-width="0.9"/>
<line x1="399.2" y1="315.07" x2="399.2" y2="319.41" stroke="#cc2f3e" stroke-width="0.8"/>
<line x1="396" y1="315.07" x2="402.4" y2="315.07" stroke="#cc2f3e" stroke-width="0.8"/>
<line x1="396" y1="319.41" x2="402.4" y2="319.41" stroke="#cc2f3e" stroke-width="0.8"/>
<line x1="394.4" y1="317.24" x2="404" y2="317.24" stroke="#cc2f3e" stroke-width="0.9"/>
<line x1="360.9" y1="335.3" x2="413.3" y2="335.3" stroke="#222" stroke-width="1.1"/>
<line x1="375.9" y1="335.3" x2="375.9" y2="337.6" stroke="#222" stroke-width="0.8"/>
<line x1="399.2" y1="335.3" x2="399.2" y2="337.6" stroke="#222" stroke-width="0.8"/>
<text x="375.9" y="347" font-size="6.1" text-anchor="middle" fill="#222" class="s">Media</text>
<text x="399.2" y="347" font-size="6.1" text-anchor="middle" fill="#222" class="s">DCA</text>
<polyline points="375.9,288 375.9,284.6 399.2,284.6 399.2,288" stroke="#222" stroke-width="1.1" fill="none"/>
<text x="387.55" y="284.9" font-size="5.6" text-anchor="middle" fill="#222" class="s">**</text>
<text x="430" y="265.4" font-size="11" font-weight="bold" fill="#111" class="L">F</text>
<text x="487.3" y="266" font-size="8" text-anchor="middle" fill="#222">CFU-GEMMs</text>
<line x1="460.4" y1="272.3" x2="460.4" y2="335.8" stroke="#222" stroke-width="1.1"/>
<line x1="458" y1="335.3" x2="460.4" y2="335.3" stroke="#222" stroke-width="0.9"/>
<text x="455.4" y="337.4" font-size="6" text-anchor="end" fill="#2a2a2a" letter-spacing="0.25" class="s">0</text>
<line x1="458" y1="315.23" x2="460.4" y2="315.23" stroke="#222" stroke-width="0.9"/>
<text x="455.4" y="317.33" font-size="6" text-anchor="end" fill="#2a2a2a" letter-spacing="0.25" class="s">5</text>
<line x1="458" y1="295.17" x2="460.4" y2="295.17" stroke="#222" stroke-width="0.9"/>
<text x="455.4" y="297.27" font-size="6" text-anchor="end" fill="#2a2a2a" letter-spacing="0.25" class="s">10</text>
<line x1="458" y1="275.1" x2="460.4" y2="275.1" stroke="#222" stroke-width="0.9"/>
<text x="455.4" y="277.2" font-size="6" text-anchor="end" fill="#2a2a2a" letter-spacing="0.25" class="s">15</text>
<text x="0" y="0" font-size="8.6" text-anchor="middle" fill="#222" transform="translate(443.2,304.1) rotate(-90) scale(0.65,1)" class="r">Number of colonies</text>
<rect x="468.4" y="323.26" width="13" height="12.04" fill="#8d9dcd"/>
<rect x="491.6" y="322.46" width="13.2" height="12.84" fill="#ea8b82"/>
<circle cx="474.9" cy="299.18" r="0.85" fill="#2d4f8e"/>
<circle cx="474.9" cy="315.23" r="0.85" fill="#2d4f8e"/>
<circle cx="474.9" cy="319.25" r="0.85" fill="#2d4f8e"/>
<circle cx="474.9" cy="323.26" r="0.85" fill="#2d4f8e"/>
<circle cx="477.2" cy="323.26" r="0.85" fill="#2d4f8e"/>
<circle cx="474.9" cy="327.27" r="0.85" fill="#2d4f8e"/>
<circle cx="477.2" cy="327.27" r="0.85" fill="#2d4f8e"/>
<circle cx="474.9" cy="331.29" r="0.85" fill="#2d4f8e"/>
<circle cx="477.2" cy="331.29" r="0.85" fill="#2d4f8e"/>
<circle cx="474.9" cy="335.3" r="0.85" fill="#2d4f8e"/>
<circle cx="498.2" cy="303.19" r="0.85" fill="#cc2f3e"/>
<circle cx="498.2" cy="307.21" r="0.85" fill="#cc2f3e"/>
<circle cx="498.2" cy="315.23" r="0.85" fill="#cc2f3e"/>
<circle cx="500.5" cy="315.23" r="0.85" fill="#cc2f3e"/>
<circle cx="498.2" cy="319.25" r="0.85" fill="#cc2f3e"/>
<circle cx="498.2" cy="323.26" r="0.85" fill="#cc2f3e"/>
<circle cx="498.2" cy="327.27" r="0.85" fill="#cc2f3e"/>
<circle cx="500.5" cy="327.27" r="0.85" fill="#cc2f3e"/>
<circle cx="498.2" cy="331.29" r="0.85" fill="#cc2f3e"/>
<circle cx="498.2" cy="335.3" r="0.85" fill="#cc2f3e"/>
<line x1="474.9" y1="320.05" x2="474.9" y2="326.47" stroke="#2d4f8e" stroke-width="0.8"/>
<line x1="471.7" y1="320.05" x2="478.1" y2="320.05" stroke="#2d4f8e" stroke-width="0.8"/>
<line x1="471.7" y1="326.47" x2="478.1" y2="326.47" stroke="#2d4f8e" stroke-width="0.8"/>
<line x1="470.1" y1="323.26" x2="479.7" y2="323.26" stroke="#2d4f8e" stroke-width="0.9"/>
<line x1="498.2" y1="319.25" x2="498.2" y2="325.67" stroke="#cc2f3e" stroke-width="0.8"/>
<line x1="495" y1="319.25" x2="501.4" y2="319.25" stroke="#cc2f3e" stroke-width="0.8"/>
<line x1="495" y1="325.67" x2="501.4" y2="325.67" stroke="#cc2f3e" stroke-width="0.8"/>
<line x1="493.4" y1="322.46" x2="503" y2="322.46" stroke="#cc2f3e" stroke-width="0.9"/>
<line x1="459.9" y1="335.3" x2="513" y2="335.3" stroke="#222" stroke-width="1.1"/>
<line x1="474.9" y1="335.3" x2="474.9" y2="337.6" stroke="#222" stroke-width="0.8"/>
<line x1="498.2" y1="335.3" x2="498.2" y2="337.6" stroke="#222" stroke-width="0.8"/>
<text x="474.9" y="347" font-size="6.1" text-anchor="middle" fill="#222" class="s">Media</text>
<text x="498.2" y="347" font-size="6.1" text-anchor="middle" fill="#222" class="s">DCA</text>
<text x="122.2" y="377" font-size="11" font-weight="bold" fill="#111" class="L">H</text>
<line x1="158.7" y1="383.9" x2="158.7" y2="447.4" stroke="#222" stroke-width="1.1"/>
<line x1="156.3" y1="446.9" x2="158.7" y2="446.9" stroke="#222" stroke-width="0.9"/>
<text x="153.7" y="449" font-size="6" text-anchor="end" fill="#2a2a2a" letter-spacing="0.25" class="s">0</text>
<line x1="156.3" y1="426.83" x2="158.7" y2="426.83" stroke="#222" stroke-width="0.9"/>
<text x="153.7" y="428.93" font-size="6" text-anchor="end" fill="#2a2a2a" letter-spacing="0.25" class="s">50</text>
<line x1="156.3" y1="406.77" x2="158.7" y2="406.77" stroke="#222" stroke-width="0.9"/>
<text x="153.7" y="408.87" font-size="6" text-anchor="end" fill="#2a2a2a" letter-spacing="0.25" class="s">100</text>
<line x1="156.3" y1="386.7" x2="158.7" y2="386.7" stroke="#222" stroke-width="0.9"/>
<text x="153.7" y="388.8" font-size="6" text-anchor="end" fill="#2a2a2a" letter-spacing="0.25" class="s">150</text>
<text x="0" y="0" font-size="8.6" text-anchor="middle" fill="#222" transform="translate(137.5,415.7) rotate(-90) scale(0.65,1)" class="r">Number of colonies</text>
<rect x="166.7" y="420.01" width="13" height="26.89" fill="#8d9dcd"/>
<rect x="189.9" y="422.02" width="13.2" height="24.88" fill="#ea8b82"/>
<circle cx="173.2" cy="399.54" r="0.85" fill="#2d4f8e"/>
<circle cx="173.2" cy="409.58" r="0.85" fill="#2d4f8e"/>
<circle cx="173.2" cy="412.79" r="0.85" fill="#2d4f8e"/>
<circle cx="173.2" cy="416.8" r="0.85" fill="#2d4f8e"/>
<circle cx="175.5" cy="418.81" r="0.85" fill="#2d4f8e"/>
<circle cx="173.2" cy="420.81" r="0.85" fill="#2d4f8e"/>
<circle cx="175.5" cy="422.82" r="0.85" fill="#2d4f8e"/>
<circle cx="173.2" cy="424.83" r="0.85" fill="#2d4f8e"/>
<circle cx="175.5" cy="426.83" r="0.85" fill="#2d4f8e"/>
<circle cx="173.2" cy="428.84" r="0.85" fill="#2d4f8e"/>
<circle cx="196.5" cy="405.96" r="0.85" fill="#cc2f3e"/>
<circle cx="196.5" cy="408.77" r="0.85" fill="#cc2f3e"/>
<circle cx="196.5" cy="412.79" r="0.85" fill="#cc2f3e"/>
<circle cx="196.5" cy="416.8" r="0.85" fill="#cc2f3e"/>
<circle cx="198.8" cy="418.81" r="0.85" fill="#cc2f3e"/>
<circle cx="196.5" cy="420.81" r="0.85" fill="#cc2f3e"/>
<circle cx="196.5" cy="424.83" r="0.85" fill="#cc2f3e"/>
<circle cx="198.8" cy="426.83" r="0.85" fill="#cc2f3e"/>
<circle cx="196.5" cy="428.84" r="0.85" fill="#cc2f3e"/>
<circle cx="196.5" cy="434.06" r="0.85" fill="#cc2f3e"/>
<line x1="173.2" y1="417.6" x2="173.2" y2="422.42" stroke="#2d4f8e" stroke-width="0.8"/>
<line x1="170" y1="417.6" x2="176.4" y2="417.6" stroke="#2d4f8e" stroke-width="0.8"/>
<line x1="170" y1="422.42" x2="176.4" y2="422.42" stroke="#2d4f8e" stroke-width="0.8"/>
<line x1="168.4" y1="420.01" x2="178" y2="420.01" stroke="#2d4f8e" stroke-width="0.9"/>
<line x1="196.5" y1="419.61" x2="196.5" y2="424.43" stroke="#cc2f3e" stroke-width="0.8"/>
<line x1="193.3" y1="419.61" x2="199.7" y2="419.61" stroke="#cc2f3e" stroke-width="0.8"/>
<line x1="193.3" y1="424.43" x2="199.7" y2="424.43" stroke="#cc2f3e" stroke-width="0.8"/>
<line x1="191.7" y1="422.02" x2="201.3" y2="422.02" stroke="#cc2f3e" stroke-width="0.9"/>
<line x1="158.2" y1="446.9" x2="210" y2="446.9" stroke="#222" stroke-width="1.1"/>
<line x1="173.2" y1="446.9" x2="173.2" y2="449.2" stroke="#222" stroke-width="0.8"/>
<line x1="196.5" y1="446.9" x2="196.5" y2="449.2" stroke="#222" stroke-width="0.8"/>
<text x="173.2" y="458.6" font-size="6.1" text-anchor="middle" fill="#222" class="s">Media</text>
<text x="196.5" y="458.6" font-size="6.1" text-anchor="middle" fill="#222" class="s">DCA</text>
<text x="228.2" y="377" font-size="11" font-weight="bold" fill="#111" class="L">I</text>
<line x1="261.8" y1="383.9" x2="261.8" y2="447.4" stroke="#222" stroke-width="1.1"/>
<line x1="259.4" y1="446.9" x2="261.8" y2="446.9" stroke="#222" stroke-width="0.9"/>
<text x="256.8" y="449" font-size="6" text-anchor="end" fill="#2a2a2a" letter-spacing="0.25" class="s">0</text>
<line x1="259.4" y1="426.83" x2="261.8" y2="426.83" stroke="#222" stroke-width="0.9"/>
<text x="256.8" y="428.93" font-size="6" text-anchor="end" fill="#2a2a2a" letter-spacing="0.25" class="s">50</text>
<line x1="259.4" y1="406.77" x2="261.8" y2="406.77" stroke="#222" stroke-width="0.9"/>
<text x="256.8" y="408.87" font-size="6" text-anchor="end" fill="#2a2a2a" letter-spacing="0.25" class="s">100</text>
<line x1="259.4" y1="386.7" x2="261.8" y2="386.7" stroke="#222" stroke-width="0.9"/>
<text x="256.8" y="388.8" font-size="6" text-anchor="end" fill="#2a2a2a" letter-spacing="0.25" class="s">150</text>
<text x="0" y="0" font-size="8.6" text-anchor="middle" fill="#222" transform="translate(240.6,415.7) rotate(-90) scale(0.65,1)" class="r">Number of colonies</text>
<rect x="269.8" y="428.84" width="13" height="18.06" fill="#8d9dcd"/>
<rect x="293" y="430.04" width="13.2" height="16.86" fill="#ea8b82"/>
<circle cx="276.3" cy="410.78" r="0.85" fill="#2d4f8e"/>
<circle cx="276.3" cy="422.02" r="0.85" fill="#2d4f8e"/>
<circle cx="276.3" cy="424.83" r="0.85" fill="#2d4f8e"/>
<circle cx="278.6" cy="426.83" r="0.85" fill="#2d4f8e"/>
<circle cx="276.3" cy="427.64" r="0.85" fill="#2d4f8e"/>
<circle cx="274" cy="428.84" r="0.85" fill="#2d4f8e"/>
<circle cx="276.3" cy="430.85" r="0.85" fill="#2d4f8e"/>
<circle cx="278.6" cy="432.85" r="0.85" fill="#2d4f8e"/>
<circle cx="276.3" cy="434.86" r="0.85" fill="#2d4f8e"/>
<circle cx="278.6" cy="436.87" r="0.85" fill="#2d4f8e"/>
<circle cx="299.6" cy="415.6" r="0.85" fill="#cc2f3e"/>
<circle cx="299.6" cy="422.02" r="0.85" fill="#cc2f3e"/>
<circle cx="299.6" cy="424.83" r="0.85" fill="#cc2f3e"/>
<circle cx="301.9" cy="426.83" r="0.85" fill="#cc2f3e"/>
<circle cx="299.6" cy="428.84" r="0.85" fill="#cc2f3e"/>
<circle cx="301.9" cy="430.85" r="0.85" fill="#cc2f3e"/>
<circle cx="299.6" cy="432.85" r="0.85" fill="#cc2f3e"/>
<circle cx="301.9" cy="434.86" r="0.85" fill="#cc2f3e"/>
<circle cx="299.6" cy="436.87" r="0.85" fill="#cc2f3e"/>
<circle cx="301.9" cy="438.07" r="0.85" fill="#cc2f3e"/>
<line x1="276.3" y1="426.83" x2="276.3" y2="430.85" stroke="#2d4f8e" stroke-width="0.8"/>
<line x1="273.1" y1="426.83" x2="279.5" y2="426.83" stroke="#2d4f8e" stroke-width="0.8"/>
<line x1="273.1" y1="430.85" x2="279.5" y2="430.85" stroke="#2d4f8e" stroke-width="0.8"/>
<line x1="271.5" y1="428.84" x2="281.1" y2="428.84" stroke="#2d4f8e" stroke-width="0.9"/>
<line x1="299.6" y1="428.04" x2="299.6" y2="432.05" stroke="#cc2f3e" stroke-width="0.8"/>
<line x1="296.4" y1="428.04" x2="302.8" y2="428.04" stroke="#cc2f3e" stroke-width="0.8"/>
<line x1="296.4" y1="432.05" x2="302.8" y2="432.05" stroke="#cc2f3e" stroke-width="0.8"/>
<line x1="294.8" y1="430.04" x2="304.4" y2="430.04" stroke="#cc2f3e" stroke-width="0.9"/>
<line x1="261.3" y1="446.9" x2="314.3" y2="446.9" stroke="#222" stroke-width="1.1"/>
<line x1="276.3" y1="446.9" x2="276.3" y2="449.2" stroke="#222" stroke-width="0.8"/>
<line x1="299.6" y1="446.9" x2="299.6" y2="449.2" stroke="#222" stroke-width="0.8"/>
<text x="276.3" y="458.6" font-size="6.1" text-anchor="middle" fill="#222" class="s">Media</text>
<text x="299.6" y="458.6" font-size="6.1" text-anchor="middle" fill="#222" class="s">DCA</text>
<text x="330.2" y="377" font-size="11" font-weight="bold" fill="#111" class="L">J</text>
<line x1="361.2" y1="383.9" x2="361.2" y2="447.4" stroke="#222" stroke-width="1.1"/>
<line x1="358.8" y1="446.9" x2="361.2" y2="446.9" stroke="#222" stroke-width="0.9"/>
<text x="356.2" y="449" font-size="6" text-anchor="end" fill="#2a2a2a" letter-spacing="0.25" class="s">0</text>
<line x1="358.8" y1="434.86" x2="361.2" y2="434.86" stroke="#222" stroke-width="0.9"/>
<text x="356.2" y="436.96" font-size="6" text-anchor="end" fill="#2a2a2a" letter-spacing="0.25" class="s">10</text>
<line x1="358.8" y1="422.82" x2="361.2" y2="422.82" stroke="#222" stroke-width="0.9"/>
<text x="356.2" y="424.92" font-size="6" text-anchor="end" fill="#2a2a2a" letter-spacing="0.25" class="s">20</text>
<line x1="358.8" y1="410.78" x2="361.2" y2="410.78" stroke="#222" stroke-width="0.9"/>
<text x="356.2" y="412.88" font-size="6" text-anchor="end" fill="#2a2a2a" letter-spacing="0.25" class="s">30</text>
<line x1="358.8" y1="398.74" x2="361.2" y2="398.74" stroke="#222" stroke-width="0.9"/>
<text x="356.2" y="400.84" font-size="6" text-anchor="end" fill="#2a2a2a" letter-spacing="0.25" class="s">40</text>
<line x1="358.8" y1="386.7" x2="361.2" y2="386.7" stroke="#222" stroke-width="0.9"/>
<text x="356.2" y="388.8" font-size="6" text-anchor="end" fill="#2a2a2a" letter-spacing="0.25" class="s">50</text>
<text x="0" y="0" font-size="8.6" text-anchor="middle" fill="#222" transform="translate(344,415.7) rotate(-90) scale(0.65,1)" class="r">Number of colonies</text>
<rect x="369.2" y="424.63" width="13" height="22.27" fill="#8d9dcd"/>
<rect x="392.4" y="425.83" width="13.2" height="21.07" fill="#ea8b82"/>
<circle cx="375.7" cy="416.8" r="0.85" fill="#2d4f8e"/>
<circle cx="375.7" cy="420.41" r="0.85" fill="#2d4f8e"/>
<circle cx="375.7" cy="422.82" r="0.85" fill="#2d4f8e"/>
<circle cx="378" cy="424.02" r="0.85" fill="#2d4f8e"/>
<circle cx="375.7" cy="425.23" r="0.85" fill="#2d4f8e"/>
<circle cx="378" cy="426.43" r="0.85" fill="#2d4f8e"/>
<circle cx="375.7" cy="427.64" r="0.85" fill="#2d4f8e"/>
<circle cx="378" cy="428.84" r="0.85" fill="#2d4f8e"/>
<circle cx="375.7" cy="432.45" r="0.85" fill="#2d4f8e"/>
<circle cx="399" cy="414.39" r="0.85" fill="#cc2f3e"/>
<circle cx="399" cy="418" r="0.85" fill="#cc2f3e"/>
<circle cx="399" cy="420.41" r="0.85" fill="#cc2f3e"/>
<circle cx="399" cy="422.82" r="0.85" fill="#cc2f3e"/>
<circle cx="399" cy="425.23" r="0.85" fill="#cc2f3e"/>
<circle cx="399" cy="427.64" r="0.85" fill="#cc2f3e"/>
<circle cx="399" cy="430.04" r="0.85" fill="#cc2f3e"/>
<circle cx="399" cy="432.45" r="0.85" fill="#cc2f3e"/>
<circle cx="399" cy="437.27" r="0.85" fill="#cc2f3e"/>
<line x1="375.7" y1="422.82" x2="375.7" y2="426.43" stroke="#2d4f8e" stroke-width="0.8"/>
<line x1="372.5" y1="422.82" x2="378.9" y2="422.82" stroke="#2d4f8e" stroke-width="0.8"/>
<line x1="372.5" y1="426.43" x2="378.9" y2="426.43" stroke="#2d4f8e" stroke-width="0.8"/>
<line x1="370.9" y1="424.63" x2="380.5" y2="424.63" stroke="#2d4f8e" stroke-width="0.9"/>
<line x1="399" y1="423.42" x2="399" y2="428.24" stroke="#cc2f3e" stroke-width="0.8"/>
<line x1="395.8" y1="423.42" x2="402.2" y2="423.42" stroke="#cc2f3e" stroke-width="0.8"/>
<line x1="395.8" y1="428.24" x2="402.2" y2="428.24" stroke="#cc2f3e" stroke-width="0.8"/>
<line x1="394.2" y1="425.83" x2="403.8" y2="425.83" stroke="#cc2f3e" stroke-width="0.9"/>
<line x1="360.7" y1="446.9" x2="413.7" y2="446.9" stroke="#222" stroke-width="1.1"/>
<line x1="375.7" y1="446.9" x2="375.7" y2="449.2" stroke="#222" stroke-width="0.8"/>
<line x1="399" y1="446.9" x2="399" y2="449.2" stroke="#222" stroke-width="0.8"/>
<text x="375.7" y="458.6" font-size="6.1" text-anchor="middle" fill="#222" class="s">Media</text>
<text x="399" y="458.6" font-size="6.1" text-anchor="middle" fill="#222" class="s">DCA</text>
<text x="429.5" y="377" font-size="11" font-weight="bold" fill="#111" class="L">K</text>
<line x1="460.8" y1="383.9" x2="460.8" y2="447.4" stroke="#222" stroke-width="1.1"/>
<line x1="458.4" y1="446.9" x2="460.8" y2="446.9" stroke="#222" stroke-width="0.9"/>
<text x="455.8" y="449" font-size="6" text-anchor="end" fill="#2a2a2a" letter-spacing="0.25" class="s">0</text>
<line x1="458.4" y1="426.83" x2="460.8" y2="426.83" stroke="#222" stroke-width="0.9"/>
<text x="455.8" y="428.93" font-size="6" text-anchor="end" fill="#2a2a2a" letter-spacing="0.25" class="s">5</text>
<line x1="458.4" y1="406.77" x2="460.8" y2="406.77" stroke="#222" stroke-width="0.9"/>
<text x="455.8" y="408.87" font-size="6" text-anchor="end" fill="#2a2a2a" letter-spacing="0.25" class="s">10</text>
<line x1="458.4" y1="386.7" x2="460.8" y2="386.7" stroke="#222" stroke-width="0.9"/>
<text x="455.8" y="388.8" font-size="6" text-anchor="end" fill="#2a2a2a" letter-spacing="0.25" class="s">15</text>
<text x="0" y="0" font-size="8.6" text-anchor="middle" fill="#222" transform="translate(443.6,415.7) rotate(-90) scale(0.65,1)" class="r">Number of colonies</text>
<rect x="468.8" y="434.06" width="13" height="12.84" fill="#8d9dcd"/>
<rect x="492" y="436.06" width="13.2" height="10.84" fill="#ea8b82"/>
<circle cx="475.3" cy="402.75" r="0.85" fill="#2d4f8e"/>
<circle cx="475.3" cy="422.82" r="0.85" fill="#2d4f8e"/>
<circle cx="475.3" cy="426.83" r="0.85" fill="#2d4f8e"/>
<circle cx="475.3" cy="430.85" r="0.85" fill="#2d4f8e"/>
<circle cx="475.3" cy="434.86" r="0.85" fill="#2d4f8e"/>
<circle cx="477.6" cy="434.86" r="0.85" fill="#2d4f8e"/>
<circle cx="475.3" cy="438.87" r="0.85" fill="#2d4f8e"/>
<circle cx="477.6" cy="438.87" r="0.85" fill="#2d4f8e"/>
<circle cx="475.3" cy="442.89" r="0.85" fill="#2d4f8e"/>
<circle cx="477.6" cy="442.89" r="0.85" fill="#2d4f8e"/>
<circle cx="498.6" cy="414.79" r="0.85" fill="#cc2f3e"/>
<circle cx="498.6" cy="422.82" r="0.85" fill="#cc2f3e"/>
<circle cx="498.6" cy="430.85" r="0.85" fill="#cc2f3e"/>
<circle cx="498.6" cy="434.86" r="0.85" fill="#cc2f3e"/>
<circle cx="500.9" cy="434.86" r="0.85" fill="#cc2f3e"/>
<circle cx="498.6" cy="438.87" r="0.85" fill="#cc2f3e"/>
<circle cx="500.9" cy="438.87" r="0.85" fill="#cc2f3e"/>
<circle cx="498.6" cy="442.89" r="0.85" fill="#cc2f3e"/>
<circle cx="500.9" cy="442.89" r="0.85" fill="#cc2f3e"/>
<circle cx="498.6" cy="446.9" r="0.85" fill="#cc2f3e"/>
<line x1="475.3" y1="430.45" x2="475.3" y2="437.67" stroke="#2d4f8e" stroke-width="0.8"/>
<line x1="472.1" y1="430.45" x2="478.5" y2="430.45" stroke="#2d4f8e" stroke-width="0.8"/>
<line x1="472.1" y1="437.67" x2="478.5" y2="437.67" stroke="#2d4f8e" stroke-width="0.8"/>
<line x1="470.5" y1="434.06" x2="480.1" y2="434.06" stroke="#2d4f8e" stroke-width="0.9"/>
<line x1="498.6" y1="432.85" x2="498.6" y2="439.27" stroke="#cc2f3e" stroke-width="0.8"/>
<line x1="495.4" y1="432.85" x2="501.8" y2="432.85" stroke="#cc2f3e" stroke-width="0.8"/>
<line x1="495.4" y1="439.27" x2="501.8" y2="439.27" stroke="#cc2f3e" stroke-width="0.8"/>
<line x1="493.8" y1="436.06" x2="503.4" y2="436.06" stroke="#cc2f3e" stroke-width="0.9"/>
<line x1="460.3" y1="446.9" x2="512.6" y2="446.9" stroke="#222" stroke-width="1.1"/>
<line x1="475.3" y1="446.9" x2="475.3" y2="449.2" stroke="#222" stroke-width="0.8"/>
<line x1="498.6" y1="446.9" x2="498.6" y2="449.2" stroke="#222" stroke-width="0.8"/>
<text x="475.3" y="458.6" font-size="6.1" text-anchor="middle" fill="#222" class="s">Media</text>
<text x="498.6" y="458.6" font-size="6.1" text-anchor="middle" fill="#222" class="s">DCA</text>
<text x="56.6" y="490.9" font-size="11" font-weight="bold" fill="#111" class="L">L</text>
<text x="69.5" y="490.9" font-size="9" font-style="italic" fill="#222">Sorted GMPs from colony forming assays</text>
<line x1="68" y1="495.7" x2="237.5" y2="495.7" stroke="#333" stroke-width="1.3"/>
<text x="110.9" y="506.7" font-size="6" text-anchor="middle" fill="#333" class="n">Media</text>
<text x="194.4" y="506.7" font-size="6" text-anchor="middle" fill="#333" class="n">DCA</text>
<rect x="70" y="513.5" width="81" height="72.4" fill="#f6f5fa"/>
<rect x="70" y="513.5" width="81" height="6.5" fill="#fdfdfe"/>
<rect x="153.6" y="513.5" width="81.2" height="72.4" fill="#f6f5fa"/>
<rect x="153.6" y="513.5" width="81.2" height="6.5" fill="#fdfdfe"/>
<rect x="70" y="588.2" width="81" height="73.3" fill="#f6f5fa"/>
<rect x="70" y="588.2" width="81" height="6.5" fill="#fdfdfe"/>
<rect x="153.6" y="588.2" width="81.2" height="73.3" fill="#f6f5fa"/>
<rect x="153.6" y="588.2" width="81.2" height="6.5" fill="#fdfdfe"/>
<circle cx="74" cy="539.5" r="1.35" fill="#45294f"/>
<circle cx="87.2" cy="540" r="2.7" fill="#c3bad1"/>
<circle cx="87.4" cy="540" r="2" fill="#b3a8c6"/>
<circle cx="87.7" cy="539.4" r="1" fill="#3e3050"/>
<circle cx="94.1" cy="538.3" r="2.7" fill="#c3bad1"/>
<circle cx="94.3" cy="538.3" r="2" fill="#b3a8c6"/>
<circle cx="94.6" cy="537.7" r="1" fill="#3e3050"/>
<circle cx="86.6" cy="544" r="1.35" fill="#45294f"/>
<circle cx="76.2" cy="549.9" r="1.7" fill="#643477"/>
<circle cx="76.6" cy="552.7" r="1.7" fill="#643477"/>
<circle cx="106" cy="534" r="1.35" fill="#45294f"/>
<circle cx="110.5" cy="530.8" r="1.35" fill="#45294f"/>
<circle cx="116.6" cy="532.2" r="2.7" fill="#c3bad1"/>
<circle cx="116.8" cy="532.2" r="2" fill="#b3a8c6"/>
<circle cx="117.1" cy="531.6" r="1" fill="#3e3050"/>
<circle cx="130.4" cy="525.7" r="1.7" fill="#dcd6e4"/>
<circle cx="145" cy="529.6" r="2.7" fill="#c3bad1"/>
<circle cx="145.2" cy="529.6" r="2" fill="#b3a8c6"/>
<circle cx="145.5" cy="529" r="1" fill="#3e3050"/>
<circle cx="145" cy="521" r="0.8" fill="#555"/>
<circle cx="97.4" cy="556.5" r="2.7" fill="#c3bad1"/>
<circle cx="97.6" cy="556.5" r="2" fill="#b3a8c6"/>
<circle cx="97.9" cy="555.9" r="1" fill="#3e3050"/>
<circle cx="101" cy="558.2" r="1.35" fill="#45294f"/>
<circle cx="84" cy="559.6" r="2.7" fill="#c3bad1"/>
<circle cx="84.2" cy="559.6" r="2" fill="#b3a8c6"/>
<circle cx="84.5" cy="559" r="1" fill="#3e3050"/>
<circle cx="147.2" cy="566" r="2.7" fill="#c3bad1"/>
<circle cx="147.4" cy="566" r="2" fill="#b3a8c6"/>
<circle cx="147.7" cy="565.4" r="1" fill="#3e3050"/>
<circle cx="83.7" cy="567.7" r="1.7" fill="#dcd6e4"/>
<circle cx="166.8" cy="529.6" r="2.7" fill="#c3bad1"/>
<circle cx="167" cy="529.6" r="2" fill="#b3a8c6"/>
<circle cx="167.3" cy="529" r="1" fill="#3e3050"/>
<circle cx="170.2" cy="539.2" r="2.7" fill="#c3bad1"/>
<circle cx="170.4" cy="539.2" r="2" fill="#b3a8c6"/>
<circle cx="170.7" cy="538.6" r="1" fill="#3e3050"/>
<circle cx="209.2" cy="525.3" r="1.7" fill="#643477"/>
<circle cx="191.5" cy="552.7" r="3.2" fill="#b9abcb"/>
<circle cx="191.5" cy="552.7" r="2.4" fill="#a895bf"/>
<circle cx="192" cy="552.2" r="1" fill="#4a3560"/>
<circle cx="202.8" cy="557.8" r="2.7" fill="#c3bad1"/>
<circle cx="203" cy="557.8" r="2" fill="#b3a8c6"/>
<circle cx="203.3" cy="557.2" r="1" fill="#3e3050"/>
<circle cx="198" cy="563.7" r="2.7" fill="#c3bad1"/>
<circle cx="198.2" cy="563.7" r="2" fill="#b3a8c6"/>
<circle cx="198.5" cy="563.1" r="1" fill="#3e3050"/>
<circle cx="188.4" cy="570" r="2.7" fill="#c3bad1"/>
<circle cx="188.6" cy="570" r="2" fill="#b3a8c6"/>
<circle cx="188.9" cy="569.4" r="1" fill="#3e3050"/>
<circle cx="223.2" cy="555.6" r="3.2" fill="#b9abcb"/>
<circle cx="223.2" cy="555.6" r="2.4" fill="#a895bf"/>
<circle cx="223.7" cy="555.1" r="1" fill="#4a3560"/>
<circle cx="232.2" cy="560.8" r="1.7" fill="#643477"/>
<circle cx="155.2" cy="560.8" r="1.35" fill="#45294f"/>
<circle cx="112.1" cy="608.6" r="1.35" fill="#45294f"/>
<circle cx="141.2" cy="607.9" r="1.35" fill="#45294f"/>
<circle cx="117.8" cy="616.9" r="2.7" fill="#c3bad1"/>
<circle cx="118" cy="616.9" r="2" fill="#b3a8c6"/>
<circle cx="118.3" cy="616.3" r="1" fill="#3e3050"/>
<circle cx="112.1" cy="619.8" r="1.35" fill="#45294f"/>
<circle cx="83.7" cy="625.9" r="2.2" fill="#6a3a82"/>
<circle cx="91.8" cy="628.1" r="2.2" fill="#6a3a82"/>
<circle cx="96.2" cy="624.7" r="2.2" fill="#6a3a82"/>
<circle cx="94.4" cy="635.9" r="2.7" fill="#c3bad1"/>
<circle cx="94.6" cy="635.9" r="2" fill="#b3a8c6"/>
<circle cx="94.9" cy="635.3" r="1" fill="#3e3050"/>
<circle cx="106" cy="642.8" r="1.35" fill="#45294f"/>
<circle cx="126.4" cy="639" r="2.2" fill="#6a3a82"/>
<circle cx="130.4" cy="638.5" r="2.2" fill="#6a3a82"/>
<circle cx="91" cy="647.2" r="1.35" fill="#45294f"/>
<circle cx="95.3" cy="653.2" r="2.7" fill="#c3bad1"/>
<circle cx="95.5" cy="653.2" r="2" fill="#b3a8c6"/>
<circle cx="95.8" cy="652.6" r="1" fill="#3e3050"/>
<circle cx="165.9" cy="604.2" r="3.2" fill="#b9abcb"/>
<circle cx="165.9" cy="604.2" r="2.4" fill="#a895bf"/>
<circle cx="166.4" cy="603.7" r="1" fill="#4a3560"/>
<circle cx="178.6" cy="601.3" r="1.35" fill="#45294f"/>
<circle cx="181.7" cy="599.2" r="2.7" fill="#c3bad1"/>
<circle cx="181.9" cy="599.2" r="2" fill="#b3a8c6"/>
<circle cx="182.2" cy="598.6" r="1" fill="#3e3050"/>
<circle cx="194.7" cy="599.2" r="2.7" fill="#c3bad1"/>
<circle cx="194.9" cy="599.2" r="2" fill="#b3a8c6"/>
<circle cx="195.2" cy="598.6" r="1" fill="#3e3050"/>
<circle cx="190.2" cy="604.4" r="2.7" fill="#c3bad1"/>
<circle cx="190.4" cy="604.4" r="2" fill="#b3a8c6"/>
<circle cx="190.7" cy="603.8" r="1" fill="#3e3050"/>
<circle cx="194.7" cy="604.4" r="2.7" fill="#c3bad1"/>
<circle cx="194.9" cy="604.4" r="2" fill="#b3a8c6"/>
<circle cx="195.2" cy="603.8" r="1" fill="#3e3050"/>
<circle cx="207.6" cy="601.8" r="1.35" fill="#45294f"/>
<circle cx="213.2" cy="599.9" r="1.7" fill="#643477"/>
<circle cx="176" cy="608.2" r="1.35" fill="#45294f"/>
<circle cx="171.6" cy="614.3" r="1.35" fill="#45294f"/>
<circle cx="172.5" cy="617.2" r="1.7" fill="#643477"/>
<circle cx="180.3" cy="614.8" r="1.7" fill="#dcd6e4"/>
<circle cx="163" cy="618.3" r="1.7" fill="#643477"/>
<circle cx="188.1" cy="620" r="1.7" fill="#643477"/>
<circle cx="191.2" cy="618.6" r="1.7" fill="#643477"/>
<circle cx="195.3" cy="622.1" r="1.35" fill="#45294f"/>
<circle cx="200.2" cy="614.8" r="1.7" fill="#643477"/>
<circle cx="184.6" cy="625.5" r="1.35" fill="#45294f"/>
<circle cx="165.6" cy="633.3" r="3.2" fill="#b9abcb"/>
<circle cx="165.6" cy="633.3" r="2.4" fill="#a895bf"/>
<circle cx="166.1" cy="632.8" r="1" fill="#4a3560"/>
<circle cx="170.4" cy="635.1" r="1.35" fill="#45294f"/>
<circle cx="191.5" cy="635.6" r="3.2" fill="#b9abcb"/>
<circle cx="191.5" cy="635.6" r="2.4" fill="#a895bf"/>
<circle cx="192" cy="635.1" r="1" fill="#4a3560"/>
<circle cx="199.3" cy="634.2" r="1.7" fill="#643477"/>
<circle cx="205.7" cy="633.8" r="2.7" fill="#c3bad1"/>
<circle cx="205.9" cy="633.8" r="2" fill="#b3a8c6"/>
<circle cx="206.2" cy="633.2" r="1" fill="#3e3050"/>
<circle cx="208.8" cy="641.1" r="0.8" fill="#555"/>
<circle cx="158.3" cy="644.6" r="1.7" fill="#643477"/>
<circle cx="157.3" cy="649.4" r="2.7" fill="#c3bad1"/>
<circle cx="157.5" cy="649.4" r="2" fill="#b3a8c6"/>
<circle cx="157.8" cy="648.8" r="1" fill="#3e3050"/>
<circle cx="163" cy="651.8" r="1.35" fill="#45294f"/>
<circle cx="211.4" cy="652.4" r="1.7" fill="#643477"/>
<circle cx="216.6" cy="654.1" r="1.7" fill="#643477"/>
<text x="110.5" y="520.9" font-size="6.3" text-anchor="middle" fill="#333" class="n">VDR<tspan font-size="4" dy="-2.4">+/+</tspan></text>
<text x="196.5" y="520.9" font-size="6.3" text-anchor="middle" fill="#333" class="n">VDR<tspan font-size="4" dy="-2.4">+/+</tspan></text>
<text x="111.3" y="595.4" font-size="6.3" text-anchor="middle" fill="#333" class="n">VDR<tspan font-size="4" dy="-2.4">−/−</tspan></text>
<text x="196.5" y="595.4" font-size="6.3" text-anchor="middle" fill="#333" class="n">VDR<tspan font-size="4" dy="-2.4">−/−</tspan></text>
<rect x="137.8" y="581.8" width="11.6" height="2.2" fill="#111"/>
<rect x="221.8" y="581.4" width="11.2" height="2.2" fill="#111"/>
<rect x="138" y="656.1" width="11.3" height="2.2" fill="#111"/>
<rect x="221.3" y="656.1" width="11.4" height="2.2" fill="#111"/>
<rect x="69.6" y="512.6" width="166" height="149.3" fill="none" stroke="#111" stroke-width="2.1"/>
<line x1="152.6" y1="512" x2="152.6" y2="662.5" stroke="#111" stroke-width="2.1"/>
<line x1="69" y1="587.2" x2="236.5" y2="587.2" stroke="#111" stroke-width="2.1"/>
<text x="253" y="491.2" font-size="11" font-weight="bold" fill="#111" class="L">M</text>
<text x="303.5" y="491.3" font-size="9" font-style="italic" fill="#222">1,25 VITD3 concentration curve</text>
<line x1="268" y1="495.4" x2="464" y2="495.4" stroke="#333" stroke-width="1.3"/>
<line x1="296.6" y1="556.6" x2="296.6" y2="641.3" stroke="#222" stroke-width="1.1"/>
<line x1="294.2" y1="640.8" x2="296.6" y2="640.8" stroke="#222" stroke-width="0.9"/>
<text x="291.7" y="642.9" font-size="6.1" text-anchor="end" fill="#2a2a2a" letter-spacing="0.25" class="s">0</text>
<line x1="294.2" y1="624.35" x2="296.6" y2="624.35" stroke="#222" stroke-width="0.9"/>
<text x="291.7" y="626.45" font-size="6.1" text-anchor="end" fill="#2a2a2a" letter-spacing="0.25" class="s">20</text>
<line x1="294.2" y1="607.9" x2="296.6" y2="607.9" stroke="#222" stroke-width="0.9"/>
<text x="291.7" y="610" font-size="6.1" text-anchor="end" fill="#2a2a2a" letter-spacing="0.25" class="s">40</text>
<line x1="294.2" y1="591.45" x2="296.6" y2="591.45" stroke="#222" stroke-width="0.9"/>
<text x="291.7" y="593.55" font-size="6.1" text-anchor="end" fill="#2a2a2a" letter-spacing="0.25" class="s">60</text>
<line x1="294.2" y1="575" x2="296.6" y2="575" stroke="#222" stroke-width="0.9"/>
<text x="291.7" y="577.1" font-size="6.1" text-anchor="end" fill="#2a2a2a" letter-spacing="0.25" class="s">80</text>
<line x1="294.2" y1="558.55" x2="296.6" y2="558.55" stroke="#222" stroke-width="0.9"/>
<text x="291.7" y="560.65" font-size="6.1" text-anchor="end" fill="#2a2a2a" letter-spacing="0.25" class="s">100</text>
<text x="0" y="0" font-size="7.6" text-anchor="middle" fill="#222" transform="translate(275.6,600.4) rotate(-90) scale(0.81,1)" class="r">% of total colonies</text>
<rect x="299.45" y="595.56" width="6.3" height="45.24" fill="#8d9dcd"/>
<circle cx="302.6" cy="588.98" r="0.75" fill="#2d4f8e"/>
<circle cx="304.3" cy="590.63" r="0.75" fill="#2d4f8e"/>
<circle cx="302.6" cy="591.45" r="0.75" fill="#2d4f8e"/>
<circle cx="304.3" cy="593.09" r="0.75" fill="#2d4f8e"/>
<circle cx="302.6" cy="594.74" r="0.75" fill="#2d4f8e"/>
<circle cx="304.3" cy="595.56" r="0.75" fill="#2d4f8e"/>
<circle cx="300.9" cy="596.38" r="0.75" fill="#2d4f8e"/>
<circle cx="302.6" cy="598.03" r="0.75" fill="#2d4f8e"/>
<circle cx="304.3" cy="599.67" r="0.75" fill="#2d4f8e"/>
<circle cx="302.6" cy="601.32" r="0.75" fill="#2d4f8e"/>
<circle cx="302.6" cy="603.79" r="0.75" fill="#2d4f8e"/>
<circle cx="302.6" cy="606.25" r="0.75" fill="#2d4f8e"/>
<line x1="302.6" y1="593.92" x2="302.6" y2="597.21" stroke="#2d4f8e" stroke-width="0.7"/>
<line x1="300.2" y1="595.56" x2="305" y2="595.56" stroke="#2d4f8e" stroke-width="0.8"/>
<rect x="308.1" y="579.11" width="6.3" height="61.69" fill="#ec8e7a"/>
<circle cx="311.25" cy="573.35" r="0.75" fill="#cc2f3e"/>
<circle cx="312.95" cy="575" r="0.75" fill="#cc2f3e"/>
<circle cx="311.25" cy="575.82" r="0.75" fill="#cc2f3e"/>
<circle cx="312.95" cy="577.47" r="0.75" fill="#cc2f3e"/>
<circle cx="311.25" cy="578.29" r="0.75" fill="#cc2f3e"/>
<circle cx="309.55" cy="579.11" r="0.75" fill="#cc2f3e"/>
<circle cx="312.95" cy="579.93" r="0.75" fill="#cc2f3e"/>
<circle cx="311.25" cy="581.58" r="0.75" fill="#cc2f3e"/>
<circle cx="312.95" cy="582.4" r="0.75" fill="#cc2f3e"/>
<circle cx="311.25" cy="584.05" r="0.75" fill="#cc2f3e"/>
<circle cx="312.95" cy="585.69" r="0.75" fill="#cc2f3e"/>
<line x1="311.25" y1="577.47" x2="311.25" y2="580.76" stroke="#cc2f3e" stroke-width="0.7"/>
<line x1="308.85" y1="579.11" x2="313.65" y2="579.11" stroke="#cc2f3e" stroke-width="0.8"/>
<rect x="316.75" y="580.35" width="6.3" height="60.45" fill="#a8d59c"/>
<circle cx="319.9" cy="573.35" r="0.75" fill="#3db34a"/>
<circle cx="321.6" cy="575" r="0.75" fill="#3db34a"/>
<circle cx="319.9" cy="576.64" r="0.75" fill="#3db34a"/>
<circle cx="321.6" cy="578.29" r="0.75" fill="#3db34a"/>
<circle cx="319.9" cy="579.93" r="0.75" fill="#3db34a"/>
<circle cx="321.6" cy="580.76" r="0.75" fill="#3db34a"/>
<circle cx="318.2" cy="581.58" r="0.75" fill="#3db34a"/>
<circle cx="319.9" cy="582.4" r="0.75" fill="#3db34a"/>
<circle cx="321.6" cy="583.22" r="0.75" fill="#3db34a"/>
<circle cx="319.9" cy="584.87" r="0.75" fill="#3db34a"/>
<circle cx="321.6" cy="586.51" r="0.75" fill="#3db34a"/>
<line x1="319.9" y1="578.7" x2="319.9" y2="581.99" stroke="#3db34a" stroke-width="0.7"/>
<line x1="317.5" y1="580.35" x2="322.3" y2="580.35" stroke="#3db34a" stroke-width="0.8"/>
<rect x="325.4" y="586.51" width="6.3" height="54.29" fill="#a88dc2"/>
<circle cx="328.55" cy="573.35" r="0.75" fill="#6a4a8c"/>
<circle cx="330.25" cy="575" r="0.75" fill="#6a4a8c"/>
<circle cx="328.55" cy="579.11" r="0.75" fill="#6a4a8c"/>
<circle cx="328.55" cy="581.58" r="0.75" fill="#6a4a8c"/>
<circle cx="328.55" cy="584.05" r="0.75" fill="#6a4a8c"/>
<circle cx="330.25" cy="585.69" r="0.75" fill="#6a4a8c"/>
<circle cx="328.55" cy="587.34" r="0.75" fill="#6a4a8c"/>
<circle cx="330.25" cy="588.98" r="0.75" fill="#6a4a8c"/>
<circle cx="328.55" cy="590.63" r="0.75" fill="#6a4a8c"/>
<circle cx="328.55" cy="593.09" r="0.75" fill="#6a4a8c"/>
<circle cx="328.55" cy="595.56" r="0.75" fill="#6a4a8c"/>
<circle cx="328.55" cy="598.03" r="0.75" fill="#6a4a8c"/>
<line x1="328.55" y1="584.87" x2="328.55" y2="588.16" stroke="#6a4a8c" stroke-width="0.7"/>
<line x1="326.15" y1="586.51" x2="330.95" y2="586.51" stroke="#6a4a8c" stroke-width="0.8"/>
<rect x="340.45" y="608.72" width="6.3" height="32.08" fill="#8d9dcd"/>
<circle cx="343.6" cy="599.67" r="0.75" fill="#2d4f8e"/>
<circle cx="345.3" cy="601.32" r="0.75" fill="#2d4f8e"/>
<circle cx="343.6" cy="602.96" r="0.75" fill="#2d4f8e"/>
<circle cx="345.3" cy="604.61" r="0.75" fill="#2d4f8e"/>
<circle cx="343.6" cy="606.25" r="0.75" fill="#2d4f8e"/>
<circle cx="345.3" cy="607.08" r="0.75" fill="#2d4f8e"/>
<circle cx="341.9" cy="607.9" r="0.75" fill="#2d4f8e"/>
<circle cx="343.6" cy="608.72" r="0.75" fill="#2d4f8e"/>
<circle cx="345.3" cy="609.54" r="0.75" fill="#2d4f8e"/>
<circle cx="341.9" cy="610.37" r="0.75" fill="#2d4f8e"/>
<circle cx="343.6" cy="611.19" r="0.75" fill="#2d4f8e"/>
<circle cx="345.3" cy="612.01" r="0.75" fill="#2d4f8e"/>
<circle cx="343.6" cy="613.66" r="0.75" fill="#2d4f8e"/>
<circle cx="345.3" cy="615.3" r="0.75" fill="#2d4f8e"/>
<line x1="343.6" y1="607.08" x2="343.6" y2="610.37" stroke="#2d4f8e" stroke-width="0.7"/>
<line x1="341.2" y1="608.72" x2="346" y2="608.72" stroke="#2d4f8e" stroke-width="0.8"/>
<rect x="349.1" y="619.41" width="6.3" height="21.39" fill="#ec8e7a"/>
<circle cx="352.25" cy="612.83" r="0.75" fill="#cc2f3e"/>
<circle cx="353.95" cy="614.48" r="0.75" fill="#cc2f3e"/>
<circle cx="352.25" cy="616.12" r="0.75" fill="#cc2f3e"/>
<circle cx="353.95" cy="617.77" r="0.75" fill="#cc2f3e"/>
<circle cx="352.25" cy="618.59" r="0.75" fill="#cc2f3e"/>
<circle cx="350.55" cy="619.41" r="0.75" fill="#cc2f3e"/>
<circle cx="353.95" cy="620.24" r="0.75" fill="#cc2f3e"/>
<circle cx="352.25" cy="621.88" r="0.75" fill="#cc2f3e"/>
<circle cx="353.95" cy="622.7" r="0.75" fill="#cc2f3e"/>
<circle cx="350.55" cy="623.53" r="0.75" fill="#cc2f3e"/>
<circle cx="352.25" cy="625.17" r="0.75" fill="#cc2f3e"/>
<circle cx="353.95" cy="626.82" r="0.75" fill="#cc2f3e"/>
<line x1="352.25" y1="617.77" x2="352.25" y2="621.06" stroke="#cc2f3e" stroke-width="0.7"/>
<line x1="349.85" y1="619.41" x2="354.65" y2="619.41" stroke="#cc2f3e" stroke-width="0.8"/>
<rect x="357.75" y="621.06" width="6.3" height="19.74" fill="#a8d59c"/>
<circle cx="360.9" cy="613.66" r="0.75" fill="#3db34a"/>
<circle cx="362.6" cy="615.3" r="0.75" fill="#3db34a"/>
<circle cx="360.9" cy="616.95" r="0.75" fill="#3db34a"/>
<circle cx="362.6" cy="618.59" r="0.75" fill="#3db34a"/>
<circle cx="360.9" cy="620.24" r="0.75" fill="#3db34a"/>
<circle cx="362.6" cy="621.06" r="0.75" fill="#3db34a"/>
<circle cx="359.2" cy="621.88" r="0.75" fill="#3db34a"/>
<circle cx="360.9" cy="622.7" r="0.75" fill="#3db34a"/>
<circle cx="362.6" cy="624.35" r="0.75" fill="#3db34a"/>
<circle cx="360.9" cy="625.17" r="0.75" fill="#3db34a"/>
<circle cx="362.6" cy="626.82" r="0.75" fill="#3db34a"/>
<circle cx="360.9" cy="628.46" r="0.75" fill="#3db34a"/>
<line x1="360.9" y1="619.41" x2="360.9" y2="622.7" stroke="#3db34a" stroke-width="0.7"/>
<line x1="358.5" y1="621.06" x2="363.3" y2="621.06" stroke="#3db34a" stroke-width="0.8"/>
<rect x="366.4" y="615.3" width="6.3" height="25.5" fill="#a88dc2"/>
<circle cx="369.55" cy="602.96" r="0.75" fill="#6a4a8c"/>
<circle cx="369.55" cy="606.25" r="0.75" fill="#6a4a8c"/>
<circle cx="369.55" cy="609.54" r="0.75" fill="#6a4a8c"/>
<circle cx="369.55" cy="612.01" r="0.75" fill="#6a4a8c"/>
<circle cx="371.25" cy="613.66" r="0.75" fill="#6a4a8c"/>
<circle cx="369.55" cy="615.3" r="0.75" fill="#6a4a8c"/>
<circle cx="371.25" cy="616.95" r="0.75" fill="#6a4a8c"/>
<circle cx="369.55" cy="618.59" r="0.75" fill="#6a4a8c"/>
<circle cx="371.25" cy="620.24" r="0.75" fill="#6a4a8c"/>
<circle cx="369.55" cy="621.88" r="0.75" fill="#6a4a8c"/>
<circle cx="369.55" cy="624.35" r="0.75" fill="#6a4a8c"/>
<circle cx="369.55" cy="626.82" r="0.75" fill="#6a4a8c"/>
<line x1="369.55" y1="613.66" x2="369.55" y2="616.95" stroke="#6a4a8c" stroke-width="0.7"/>
<line x1="367.15" y1="615.3" x2="371.95" y2="615.3" stroke="#6a4a8c" stroke-width="0.8"/>
<rect x="380.65" y="638.33" width="6.3" height="2.47" fill="#8d9dcd"/>
<circle cx="383.8" cy="630.93" r="0.75" fill="#2d4f8e"/>
<circle cx="385.5" cy="632.57" r="0.75" fill="#2d4f8e"/>
<circle cx="383.8" cy="634.22" r="0.75" fill="#2d4f8e"/>
<circle cx="385.5" cy="635.87" r="0.75" fill="#2d4f8e"/>
<circle cx="383.8" cy="637.51" r="0.75" fill="#2d4f8e"/>
<circle cx="385.5" cy="638.33" r="0.75" fill="#2d4f8e"/>
<circle cx="382.1" cy="639.15" r="0.75" fill="#2d4f8e"/>
<circle cx="386.6" cy="639.15" r="0.75" fill="#2d4f8e"/>
<circle cx="383.8" cy="639.98" r="0.75" fill="#2d4f8e"/>
<circle cx="386.92" cy="639.98" r="0.75" fill="#2d4f8e"/>
<circle cx="386.71" cy="640.8" r="0.75" fill="#2d4f8e"/>
<circle cx="382.93" cy="640.8" r="0.75" fill="#2d4f8e"/>
<circle cx="382.01" cy="640.8" r="0.75" fill="#2d4f8e"/>
<line x1="383.8" y1="636.69" x2="383.8" y2="639.98" stroke="#2d4f8e" stroke-width="0.7"/>
<line x1="381.4" y1="638.33" x2="386.2" y2="638.33" stroke="#2d4f8e" stroke-width="0.8"/>
<rect x="389.3" y="639.57" width="6.3" height="1.23" fill="#ec8e7a"/>
<circle cx="392.45" cy="636.69" r="0.75" fill="#cc2f3e"/>
<circle cx="394.15" cy="637.51" r="0.75" fill="#cc2f3e"/>
<circle cx="390.75" cy="638.33" r="0.75" fill="#cc2f3e"/>
<circle cx="392.45" cy="639.15" r="0.75" fill="#cc2f3e"/>
<circle cx="390.7" cy="639.15" r="0.75" fill="#cc2f3e"/>
<circle cx="394.15" cy="639.98" r="0.75" fill="#cc2f3e"/>
<circle cx="390.51" cy="639.98" r="0.75" fill="#cc2f3e"/>
<circle cx="390.56" cy="640.8" r="0.75" fill="#cc2f3e"/>
<circle cx="393.24" cy="640.8" r="0.75" fill="#cc2f3e"/>
<circle cx="395.01" cy="640.8" r="0.75" fill="#cc2f3e"/>
<circle cx="394.63" cy="640.8" r="0.75" fill="#cc2f3e"/>
<line x1="392.45" y1="637.92" x2="392.45" y2="641.21" stroke="#cc2f3e" stroke-width="0.7"/>
<line x1="390.05" y1="639.57" x2="394.85" y2="639.57" stroke="#cc2f3e" stroke-width="0.8"/>
<rect x="397.95" y="638.74" width="6.3" height="2.06" fill="#a8d59c"/>
<circle cx="401.1" cy="635.04" r="0.75" fill="#3db34a"/>
<circle cx="402.8" cy="636.69" r="0.75" fill="#3db34a"/>
<circle cx="401.1" cy="637.51" r="0.75" fill="#3db34a"/>
<circle cx="399.4" cy="638.33" r="0.75" fill="#3db34a"/>
<circle cx="402.8" cy="639.15" r="0.75" fill="#3db34a"/>
<circle cx="400.97" cy="639.15" r="0.75" fill="#3db34a"/>
<circle cx="402.08" cy="639.98" r="0.75" fill="#3db34a"/>
<circle cx="403.02" cy="639.98" r="0.75" fill="#3db34a"/>
<circle cx="399.4" cy="640.8" r="0.75" fill="#3db34a"/>
<circle cx="398.44" cy="640.8" r="0.75" fill="#3db34a"/>
<circle cx="402.13" cy="640.8" r="0.75" fill="#3db34a"/>
<line x1="401.1" y1="637.1" x2="401.1" y2="640.39" stroke="#3db34a" stroke-width="0.7"/>
<line x1="398.7" y1="638.74" x2="403.5" y2="638.74" stroke="#3db34a" stroke-width="0.8"/>
<rect x="406.6" y="638.33" width="6.3" height="2.47" fill="#a88dc2"/>
<circle cx="409.75" cy="628.46" r="0.75" fill="#6a4a8c"/>
<circle cx="409.75" cy="631.75" r="0.75" fill="#6a4a8c"/>
<circle cx="409.75" cy="634.22" r="0.75" fill="#6a4a8c"/>
<circle cx="411.45" cy="635.87" r="0.75" fill="#6a4a8c"/>
<circle cx="409.75" cy="637.51" r="0.75" fill="#6a4a8c"/>
<circle cx="411.45" cy="638.33" r="0.75" fill="#6a4a8c"/>
<circle cx="408.05" cy="639.15" r="0.75" fill="#6a4a8c"/>
<circle cx="409.75" cy="639.98" r="0.75" fill="#6a4a8c"/>
<circle cx="412.37" cy="639.98" r="0.75" fill="#6a4a8c"/>
<circle cx="411.56" cy="640.8" r="0.75" fill="#6a4a8c"/>
<circle cx="411.35" cy="640.8" r="0.75" fill="#6a4a8c"/>
<circle cx="409.61" cy="640.8" r="0.75" fill="#6a4a8c"/>
<line x1="409.75" y1="636.69" x2="409.75" y2="639.98" stroke="#6a4a8c" stroke-width="0.7"/>
<line x1="407.35" y1="638.33" x2="412.15" y2="638.33" stroke="#6a4a8c" stroke-width="0.8"/>
<line x1="296.1" y1="640.8" x2="415.5" y2="640.8" stroke="#222" stroke-width="1.1"/>
<line x1="315.6" y1="640.8" x2="315.6" y2="643" stroke="#222" stroke-width="0.8"/>
<line x1="356.6" y1="640.8" x2="356.6" y2="643" stroke="#222" stroke-width="0.8"/>
<line x1="396.8" y1="640.8" x2="396.8" y2="643" stroke="#222" stroke-width="0.8"/>
<text x="315.5" y="652.1" font-size="6.1" text-anchor="middle" fill="#222" class="s">CFU-GM</text>
<text x="356" y="652.1" font-size="6.1" text-anchor="middle" fill="#222" class="s">BFU-E</text>
<text x="396.4" y="652.1" font-size="6.1" text-anchor="middle" fill="#222" class="s">CFU-GEMM</text>
<polyline points="302.3,531.1 302.3,525.9 328.6,525.9 328.6,531.1" stroke="#222" stroke-width="0.9" fill="none"/>
<text x="315.45" y="525.3" font-size="6" text-anchor="middle" fill="#222" class="s">****</text>
<polyline points="342.4,531.1 342.4,525.9 369,525.9 369,531.1" stroke="#222" stroke-width="0.9" fill="none"/>
<text x="355.7" y="525.3" font-size="6" text-anchor="middle" fill="#222" class="s">****</text>
<polyline points="302.3,549 302.3,543.8 320,543.8 320,549" stroke="#222" stroke-width="0.9" fill="none"/>
<text x="311.15" y="543.2" font-size="6" text-anchor="middle" fill="#222" class="s">****</text>
<polyline points="342.4,549 342.4,543.8 360.5,543.8 360.5,549" stroke="#222" stroke-width="0.9" fill="none"/>
<text x="351.45" y="543.2" font-size="6" text-anchor="middle" fill="#222" class="s">****</text>
<polyline points="302.3,566.5 302.3,561.3 311.3,561.3 311.3,566.5" stroke="#222" stroke-width="0.9" fill="none"/>
<text x="306.8" y="560.7" font-size="6" text-anchor="middle" fill="#222" class="s">****</text>
<polyline points="342.4,566.5 342.4,561.3 351.4,561.3 351.4,566.5" stroke="#222" stroke-width="0.9" fill="none"/>
<text x="346.9" y="560.7" font-size="6" text-anchor="middle" fill="#222" class="s">****</text>
<circle cx="401.9" cy="551.5" r="0.9" fill="#2d4f8e"/>
<text x="406" y="553.6" font-size="6" fill="#222" class="s">Media</text>
<circle cx="401.9" cy="560.2" r="0.9" fill="#cc2f3e"/>
<text x="406" y="562.3" font-size="6" fill="#222" class="s">1nM</text>
<circle cx="401.9" cy="569.8" r="0.9" fill="#3db34a"/>
<text x="406" y="571.9" font-size="6" fill="#222" class="s">10nM</text>
<circle cx="401.9" cy="579" r="0.9" fill="#6a4a8c"/>
<text x="406" y="581.1" font-size="6" fill="#222" class="s">100nM</text>
<polyline points="426.2,551.5 436.5,551.5 436.5,579.4 426.2,579.4" stroke="#222" stroke-width="0.9" fill="none"/>
<line x1="436.5" y1="565" x2="443.8" y2="565" stroke="#222" stroke-width="0.9"/>
<text x="447.6" y="565" font-size="5.8" fill="#333" class="s">1,25</text>
<text x="447.6" y="571.5" font-size="5.8" fill="#333" class="s">VIT D3</text>
<rect x="0.5" y="0.5" width="519" height="669" fill="none" stroke="#555" stroke-width="1.2"/>
</svg>
</body></html>
